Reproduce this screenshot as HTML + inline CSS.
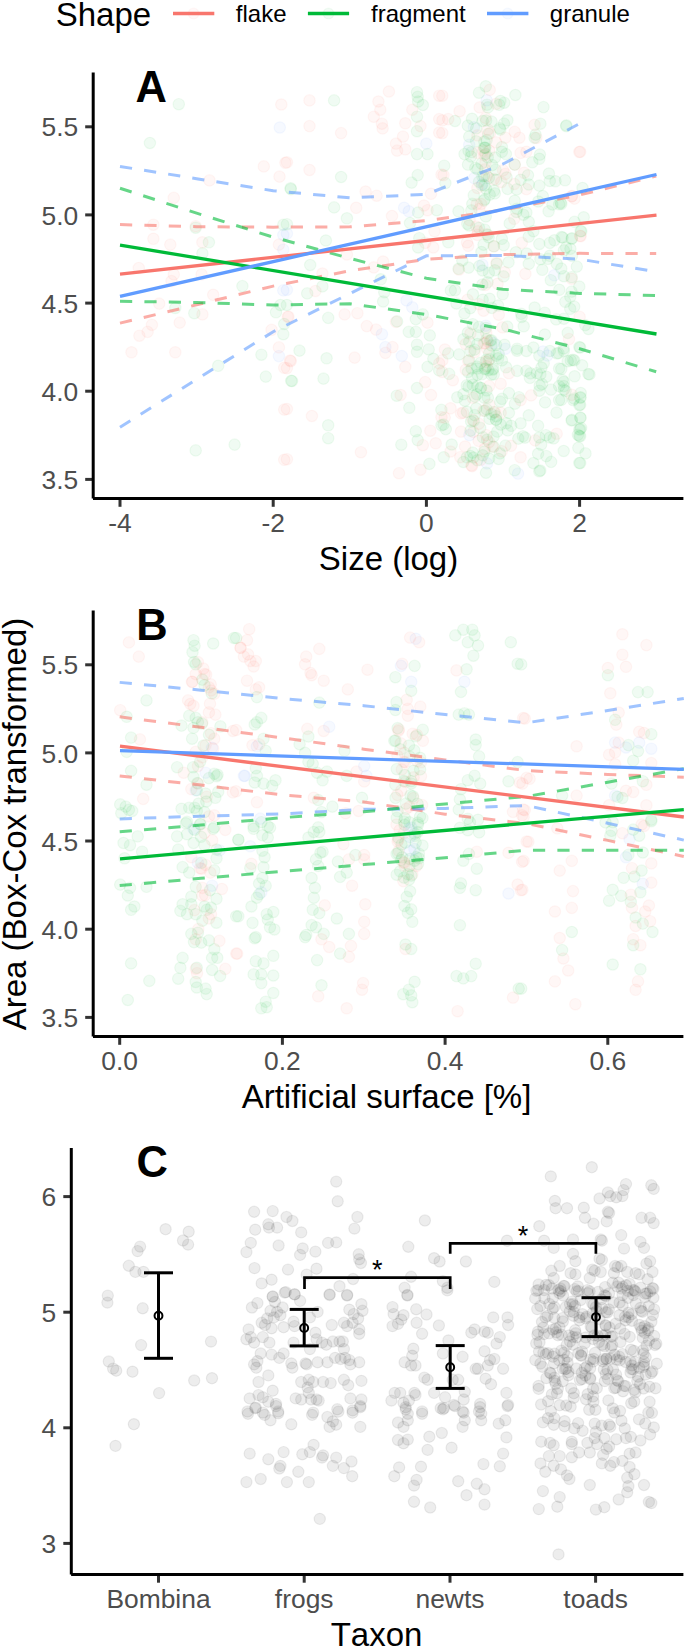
<!DOCTYPE html>
<html><head><meta charset="utf-8"><style>
html,body{margin:0;padding:0;background:#fff;width:685px;height:1649px;overflow:hidden}
svg{display:block}
text{font-family:"Liberation Sans",sans-serif;font-kerning:none}
.pts circle{fill-opacity:.06;stroke-opacity:.06;stroke-width:1.2}
.r{fill:#F8766D;stroke:#F8766D}.g{fill:#00BA38;stroke:#00BA38}.b{fill:#619CFF;stroke:#619CFF}
.ptc circle{fill:#000;stroke:#000;fill-opacity:.07;stroke-opacity:.07;stroke-width:1.2}
</style></head><body>
<svg width="685" height="1649" viewBox="0 0 685 1649">
<rect width="685" height="1649" fill="#fff"/>
<text x="55.7" y="25.5" font-size="33" fill="#000">Shape</text>
<circle cx="193.6" cy="13.6" r="5.4" fill="#F8766D" fill-opacity="0.05" stroke="#F8766D" stroke-opacity="0.05" stroke-width="1.2"/>
<line x1="173" y1="13.5" x2="214.3" y2="13.5" stroke="#F8766D" stroke-width="3.3"/>
<text x="235.8" y="21.9" font-size="24" fill="#000">flake</text>
<circle cx="328.5" cy="13.6" r="5.4" fill="#00BA38" fill-opacity="0.05" stroke="#00BA38" stroke-opacity="0.05" stroke-width="1.2"/>
<line x1="307.9" y1="13.5" x2="349.1" y2="13.5" stroke="#00BA38" stroke-width="3.3"/>
<text x="371.0" y="21.9" font-size="24" fill="#000">fragment</text>
<circle cx="507.7" cy="13.6" r="5.4" fill="#619CFF" fill-opacity="0.05" stroke="#619CFF" stroke-opacity="0.05" stroke-width="1.2"/>
<line x1="487" y1="13.5" x2="528.4" y2="13.5" stroke="#619CFF" stroke-width="3.3"/>
<text x="549.8" y="21.9" font-size="24" fill="#000">granule</text>
<g class="pts">
<circle cx="571.6" cy="278.8" r="5.7" class="r"/>
<circle cx="572.0" cy="238.2" r="5.7" class="g"/>
<circle cx="195.7" cy="450.4" r="5.7" class="g"/>
<circle cx="463.1" cy="412.7" r="5.7" class="r"/>
<circle cx="543.0" cy="351.5" r="5.7" class="b"/>
<circle cx="480.6" cy="362.9" r="5.7" class="g"/>
<circle cx="526.4" cy="151.8" r="5.7" class="r"/>
<circle cx="480.2" cy="427.9" r="5.7" class="g"/>
<circle cx="376.6" cy="195.7" r="5.7" class="r"/>
<circle cx="486.7" cy="140.1" r="5.7" class="g"/>
<circle cx="382.6" cy="128.4" r="5.7" class="r"/>
<circle cx="482.7" cy="121.0" r="5.7" class="g"/>
<circle cx="473.8" cy="195.2" r="5.7" class="g"/>
<circle cx="469.2" cy="136.6" r="5.7" class="g"/>
<circle cx="540.4" cy="259.2" r="5.7" class="g"/>
<circle cx="485.8" cy="86.3" r="5.7" class="g"/>
<circle cx="521.2" cy="313.8" r="5.7" class="g"/>
<circle cx="399.0" cy="473.2" r="5.7" class="r"/>
<circle cx="533.4" cy="347.5" r="5.7" class="g"/>
<circle cx="415.8" cy="431.2" r="5.7" class="g"/>
<circle cx="501.9" cy="147.1" r="5.7" class="g"/>
<circle cx="556.8" cy="263.9" r="5.7" class="g"/>
<circle cx="481.4" cy="252.0" r="5.7" class="g"/>
<circle cx="493.5" cy="436.6" r="5.7" class="g"/>
<circle cx="418.1" cy="247.5" r="5.7" class="g"/>
<circle cx="334.1" cy="207.4" r="5.7" class="g"/>
<circle cx="558.5" cy="353.1" r="5.7" class="g"/>
<circle cx="484.1" cy="176.1" r="5.7" class="g"/>
<circle cx="278.9" cy="244.6" r="5.7" class="r"/>
<circle cx="486.0" cy="188.7" r="5.7" class="g"/>
<circle cx="491.4" cy="345.4" r="5.7" class="g"/>
<circle cx="365.6" cy="191.5" r="5.7" class="r"/>
<circle cx="493.7" cy="343.2" r="5.7" class="b"/>
<circle cx="493.9" cy="179.1" r="5.7" class="r"/>
<circle cx="173.8" cy="274.4" r="5.7" class="r"/>
<circle cx="496.0" cy="419.6" r="5.7" class="g"/>
<circle cx="476.2" cy="128.4" r="5.7" class="g"/>
<circle cx="482.4" cy="264.7" r="5.7" class="b"/>
<circle cx="476.9" cy="366.5" r="5.7" class="g"/>
<circle cx="489.1" cy="442.1" r="5.7" class="r"/>
<circle cx="131.5" cy="352.3" r="5.7" class="r"/>
<circle cx="201.6" cy="274.4" r="5.7" class="r"/>
<circle cx="341.1" cy="177.0" r="5.7" class="g"/>
<circle cx="465.7" cy="344.0" r="5.7" class="r"/>
<circle cx="479.7" cy="107.4" r="5.7" class="r"/>
<circle cx="549.8" cy="437.5" r="5.7" class="g"/>
<circle cx="479.0" cy="227.8" r="5.7" class="g"/>
<circle cx="570.2" cy="308.8" r="5.7" class="g"/>
<circle cx="572.0" cy="196.1" r="5.7" class="r"/>
<circle cx="471.0" cy="156.5" r="5.7" class="g"/>
<circle cx="463.4" cy="339.3" r="5.7" class="g"/>
<circle cx="506.6" cy="177.5" r="5.7" class="g"/>
<circle cx="286.9" cy="233.5" r="5.7" class="b"/>
<circle cx="538.1" cy="453.8" r="5.7" class="g"/>
<circle cx="477.4" cy="368.5" r="5.7" class="g"/>
<circle cx="500.7" cy="383.7" r="5.7" class="r"/>
<circle cx="546.3" cy="456.1" r="5.7" class="g"/>
<circle cx="562.6" cy="237.5" r="5.7" class="g"/>
<circle cx="539.9" cy="154.6" r="5.7" class="g"/>
<circle cx="495.5" cy="169.7" r="5.7" class="g"/>
<circle cx="489.1" cy="353.4" r="5.7" class="g"/>
<circle cx="278.9" cy="347.4" r="5.7" class="r"/>
<circle cx="501.9" cy="238.8" r="5.7" class="g"/>
<circle cx="519.4" cy="137.7" r="5.7" class="r"/>
<circle cx="450.8" cy="290.4" r="5.7" class="g"/>
<circle cx="517.0" cy="350.7" r="5.7" class="g"/>
<circle cx="526.4" cy="212.5" r="5.7" class="g"/>
<circle cx="563.9" cy="250.4" r="5.7" class="g"/>
<circle cx="571.9" cy="255.9" r="5.7" class="g"/>
<circle cx="572.9" cy="359.9" r="5.7" class="g"/>
<circle cx="491.4" cy="414.1" r="5.7" class="g"/>
<circle cx="559.3" cy="289.8" r="5.7" class="g"/>
<circle cx="472.9" cy="294.3" r="5.7" class="g"/>
<circle cx="419.3" cy="238.2" r="5.7" class="g"/>
<circle cx="325.9" cy="240.5" r="5.7" class="g"/>
<circle cx="528.8" cy="221.8" r="5.7" class="g"/>
<circle cx="439.2" cy="132.6" r="5.7" class="r"/>
<circle cx="433.3" cy="358.8" r="5.7" class="g"/>
<circle cx="417.0" cy="344.7" r="5.7" class="g"/>
<circle cx="501.9" cy="398.9" r="5.7" class="g"/>
<circle cx="469.2" cy="341.7" r="5.7" class="g"/>
<circle cx="528.0" cy="175.3" r="5.7" class="g"/>
<circle cx="503.7" cy="245.1" r="5.7" class="g"/>
<circle cx="400.6" cy="395.0" r="5.7" class="r"/>
<circle cx="554.4" cy="240.3" r="5.7" class="g"/>
<circle cx="357.4" cy="313.2" r="5.7" class="r"/>
<circle cx="496.1" cy="419.9" r="5.7" class="g"/>
<circle cx="580.2" cy="347.5" r="5.7" class="g"/>
<circle cx="481.1" cy="204.0" r="5.7" class="r"/>
<circle cx="279.5" cy="176.6" r="5.7" class="r"/>
<circle cx="554.3" cy="275.3" r="5.7" class="b"/>
<circle cx="580.2" cy="417.6" r="5.7" class="g"/>
<circle cx="408.8" cy="211.3" r="5.7" class="b"/>
<circle cx="484.6" cy="448.7" r="5.7" class="r"/>
<circle cx="484.9" cy="169.4" r="5.7" class="r"/>
<circle cx="404.1" cy="207.8" r="5.7" class="b"/>
<circle cx="504.8" cy="272.3" r="5.7" class="r"/>
<circle cx="470.4" cy="456.0" r="5.7" class="g"/>
<circle cx="485.8" cy="361.8" r="5.7" class="r"/>
<circle cx="487.9" cy="397.7" r="5.7" class="g"/>
<circle cx="500.3" cy="129.6" r="5.7" class="g"/>
<circle cx="570.8" cy="360.4" r="5.7" class="g"/>
<circle cx="482.7" cy="455.3" r="5.7" class="g"/>
<circle cx="506.1" cy="367.3" r="5.7" class="g"/>
<circle cx="580.2" cy="429.3" r="5.7" class="g"/>
<circle cx="472.0" cy="118.8" r="5.7" class="g"/>
<circle cx="481.9" cy="374.3" r="5.7" class="g"/>
<circle cx="571.9" cy="394.9" r="5.7" class="r"/>
<circle cx="487.5" cy="282.3" r="5.7" class="g"/>
<circle cx="494.8" cy="270.3" r="5.7" class="g"/>
<circle cx="487.1" cy="439.7" r="5.7" class="g"/>
<circle cx="588.4" cy="329.0" r="5.7" class="g"/>
<circle cx="486.7" cy="100.4" r="5.7" class="b"/>
<circle cx="499.7" cy="128.2" r="5.7" class="g"/>
<circle cx="441.5" cy="417.2" r="5.7" class="r"/>
<circle cx="401.8" cy="356.0" r="5.7" class="b"/>
<circle cx="498.6" cy="459.0" r="5.7" class="g"/>
<circle cx="431.0" cy="395.0" r="5.7" class="r"/>
<circle cx="484.4" cy="397.7" r="5.7" class="g"/>
<circle cx="520.6" cy="152.9" r="5.7" class="r"/>
<circle cx="566.1" cy="126.1" r="5.7" class="g"/>
<circle cx="429.8" cy="335.4" r="5.7" class="g"/>
<circle cx="470.4" cy="333.5" r="5.7" class="r"/>
<circle cx="528.7" cy="236.6" r="5.7" class="g"/>
<circle cx="477.3" cy="234.9" r="5.7" class="r"/>
<circle cx="292.0" cy="381.0" r="5.7" class="g"/>
<circle cx="427.5" cy="210.2" r="5.7" class="r"/>
<circle cx="486.5" cy="234.3" r="5.7" class="r"/>
<circle cx="472.7" cy="384.9" r="5.7" class="g"/>
<circle cx="484.7" cy="229.6" r="5.7" class="g"/>
<circle cx="439.2" cy="363.4" r="5.7" class="r"/>
<circle cx="535.1" cy="440.4" r="5.7" class="r"/>
<circle cx="471.5" cy="465.5" r="5.7" class="r"/>
<circle cx="479.4" cy="266.0" r="5.7" class="g"/>
<circle cx="479.1" cy="326.9" r="5.7" class="g"/>
<circle cx="417.0" cy="92.2" r="5.7" class="g"/>
<circle cx="563.6" cy="348.5" r="5.7" class="g"/>
<circle cx="276.0" cy="312.3" r="5.7" class="g"/>
<circle cx="582.1" cy="365.3" r="5.7" class="g"/>
<circle cx="473.3" cy="431.9" r="5.7" class="r"/>
<circle cx="543.5" cy="107.1" r="5.7" class="g"/>
<circle cx="489.5" cy="418.8" r="5.7" class="g"/>
<circle cx="486.2" cy="332.9" r="5.7" class="r"/>
<circle cx="504.2" cy="102.7" r="5.7" class="g"/>
<circle cx="469.1" cy="225.5" r="5.7" class="g"/>
<circle cx="427.5" cy="322.6" r="5.7" class="r"/>
<circle cx="551.1" cy="461.9" r="5.7" class="g"/>
<circle cx="486.0" cy="328.0" r="5.7" class="g"/>
<circle cx="278.9" cy="356.1" r="5.7" class="b"/>
<circle cx="491.4" cy="340.2" r="5.7" class="g"/>
<circle cx="288.5" cy="316.7" r="5.7" class="r"/>
<circle cx="514.9" cy="403.7" r="5.7" class="g"/>
<circle cx="290.0" cy="360.5" r="5.7" class="r"/>
<circle cx="195.7" cy="226.2" r="5.7" class="r"/>
<circle cx="585.5" cy="453.4" r="5.7" class="g"/>
<circle cx="326.6" cy="358.3" r="5.7" class="g"/>
<circle cx="552.4" cy="204.5" r="5.7" class="g"/>
<circle cx="473.8" cy="420.8" r="5.7" class="g"/>
<circle cx="488.3" cy="133.8" r="5.7" class="g"/>
<circle cx="441.4" cy="409.9" r="5.7" class="g"/>
<circle cx="514.7" cy="164.6" r="5.7" class="g"/>
<circle cx="581.1" cy="427.9" r="5.7" class="g"/>
<circle cx="478.6" cy="440.8" r="5.7" class="r"/>
<circle cx="523.4" cy="214.7" r="5.7" class="g"/>
<circle cx="444.9" cy="349.5" r="5.7" class="r"/>
<circle cx="560.7" cy="202.7" r="5.7" class="g"/>
<circle cx="484.4" cy="155.3" r="5.7" class="r"/>
<circle cx="286.9" cy="224.2" r="5.7" class="g"/>
<circle cx="517.1" cy="348.7" r="5.7" class="g"/>
<circle cx="496.1" cy="142.4" r="5.7" class="r"/>
<circle cx="518.9" cy="397.2" r="5.7" class="g"/>
<circle cx="417.7" cy="440.1" r="5.7" class="g"/>
<circle cx="286.9" cy="409.0" r="5.7" class="r"/>
<circle cx="488.9" cy="272.7" r="5.7" class="g"/>
<circle cx="464.5" cy="154.1" r="5.7" class="g"/>
<circle cx="570.4" cy="248.8" r="5.7" class="g"/>
<circle cx="487.0" cy="104.7" r="5.7" class="g"/>
<circle cx="482.9" cy="437.4" r="5.7" class="g"/>
<circle cx="516.7" cy="189.4" r="5.7" class="g"/>
<circle cx="471.4" cy="152.2" r="5.7" class="g"/>
<circle cx="392.0" cy="216.0" r="5.7" class="r"/>
<circle cx="505.4" cy="137.7" r="5.7" class="r"/>
<circle cx="408.8" cy="331.9" r="5.7" class="g"/>
<circle cx="532.3" cy="162.3" r="5.7" class="g"/>
<circle cx="494.0" cy="412.1" r="5.7" class="g"/>
<circle cx="574.5" cy="198.6" r="5.7" class="r"/>
<circle cx="480.6" cy="387.7" r="5.7" class="g"/>
<circle cx="473.9" cy="127.2" r="5.7" class="b"/>
<circle cx="328.2" cy="317.9" r="5.7" class="g"/>
<circle cx="571.6" cy="196.3" r="5.7" class="r"/>
<circle cx="346.9" cy="254.5" r="5.7" class="r"/>
<circle cx="549.8" cy="242.9" r="5.7" class="g"/>
<circle cx="483.5" cy="310.7" r="5.7" class="r"/>
<circle cx="242.4" cy="286.1" r="5.7" class="g"/>
<circle cx="209.5" cy="180.4" r="5.7" class="r"/>
<circle cx="542.8" cy="196.1" r="5.7" class="g"/>
<circle cx="496.1" cy="355.7" r="5.7" class="g"/>
<circle cx="396.7" cy="395.7" r="5.7" class="g"/>
<circle cx="283.3" cy="224.7" r="5.7" class="g"/>
<circle cx="283.3" cy="249.6" r="5.7" class="b"/>
<circle cx="444.7" cy="417.6" r="5.7" class="r"/>
<circle cx="499.9" cy="453.4" r="5.7" class="g"/>
<circle cx="456.4" cy="303.5" r="5.7" class="g"/>
<circle cx="561.3" cy="204.0" r="5.7" class="g"/>
<circle cx="484.4" cy="451.5" r="5.7" class="g"/>
<circle cx="202.4" cy="253.4" r="5.7" class="g"/>
<circle cx="373.8" cy="267.4" r="5.7" class="r"/>
<circle cx="509.7" cy="223.4" r="5.7" class="g"/>
<circle cx="406.5" cy="300.4" r="5.7" class="b"/>
<circle cx="468.2" cy="245.8" r="5.7" class="r"/>
<circle cx="472.3" cy="203.9" r="5.7" class="g"/>
<circle cx="405.3" cy="366.9" r="5.7" class="r"/>
<circle cx="548.9" cy="173.5" r="5.7" class="g"/>
<circle cx="271.6" cy="329.9" r="5.7" class="r"/>
<circle cx="549.8" cy="351.0" r="5.7" class="g"/>
<circle cx="526.4" cy="189.1" r="5.7" class="r"/>
<circle cx="354.6" cy="357.6" r="5.7" class="r"/>
<circle cx="571.6" cy="238.8" r="5.7" class="g"/>
<circle cx="488.8" cy="177.9" r="5.7" class="g"/>
<circle cx="261.4" cy="354.7" r="5.7" class="g"/>
<circle cx="501.9" cy="360.4" r="5.7" class="g"/>
<circle cx="281.3" cy="104.5" r="5.7" class="r"/>
<circle cx="534.6" cy="307.5" r="5.7" class="g"/>
<circle cx="487.9" cy="107.4" r="5.7" class="g"/>
<circle cx="309.5" cy="126.1" r="5.7" class="r"/>
<circle cx="511.2" cy="425.8" r="5.7" class="g"/>
<circle cx="486.7" cy="409.4" r="5.7" class="g"/>
<circle cx="405.3" cy="123.3" r="5.7" class="r"/>
<circle cx="284.2" cy="459.8" r="5.7" class="r"/>
<circle cx="483.2" cy="150.6" r="5.7" class="r"/>
<circle cx="486.1" cy="120.5" r="5.7" class="g"/>
<circle cx="450.5" cy="451.5" r="5.7" class="r"/>
<circle cx="547.9" cy="258.9" r="5.7" class="g"/>
<circle cx="284.2" cy="324.0" r="5.7" class="g"/>
<circle cx="401.3" cy="444.7" r="5.7" class="g"/>
<circle cx="559.1" cy="386.1" r="5.7" class="g"/>
<circle cx="543.7" cy="363.2" r="5.7" class="g"/>
<circle cx="556.7" cy="433.7" r="5.7" class="r"/>
<circle cx="138.8" cy="268.0" r="5.7" class="r"/>
<circle cx="528.8" cy="184.5" r="5.7" class="g"/>
<circle cx="566.4" cy="125.4" r="5.7" class="g"/>
<circle cx="471.6" cy="368.5" r="5.7" class="g"/>
<circle cx="459.1" cy="354.4" r="5.7" class="g"/>
<circle cx="418.1" cy="101.5" r="5.7" class="g"/>
<circle cx="583.7" cy="217.3" r="5.7" class="g"/>
<circle cx="311.9" cy="416.0" r="5.7" class="r"/>
<circle cx="489.7" cy="194.6" r="5.7" class="g"/>
<circle cx="341.1" cy="133.1" r="5.7" class="r"/>
<circle cx="565.3" cy="301.8" r="5.7" class="g"/>
<circle cx="503.1" cy="170.4" r="5.7" class="r"/>
<circle cx="525.1" cy="437.6" r="5.7" class="g"/>
<circle cx="486.7" cy="339.3" r="5.7" class="g"/>
<circle cx="487.6" cy="341.3" r="5.7" class="r"/>
<circle cx="322.4" cy="273.5" r="5.7" class="r"/>
<circle cx="468.5" cy="386.6" r="5.7" class="g"/>
<circle cx="489.1" cy="386.1" r="5.7" class="r"/>
<circle cx="574.6" cy="376.3" r="5.7" class="g"/>
<circle cx="448.3" cy="242.3" r="5.7" class="g"/>
<circle cx="471.3" cy="210.4" r="5.7" class="g"/>
<circle cx="538.1" cy="425.8" r="5.7" class="g"/>
<circle cx="563.8" cy="351.0" r="5.7" class="g"/>
<circle cx="286.9" cy="162.3" r="5.7" class="r"/>
<circle cx="482.4" cy="176.4" r="5.7" class="g"/>
<circle cx="520.6" cy="179.8" r="5.7" class="g"/>
<circle cx="545.1" cy="402.4" r="5.7" class="g"/>
<circle cx="481.7" cy="185.3" r="5.7" class="g"/>
<circle cx="487.8" cy="157.4" r="5.7" class="g"/>
<circle cx="585.2" cy="325.1" r="5.7" class="g"/>
<circle cx="474.5" cy="349.6" r="5.7" class="g"/>
<circle cx="491.3" cy="374.6" r="5.7" class="g"/>
<circle cx="514.8" cy="164.6" r="5.7" class="r"/>
<circle cx="380.3" cy="109.7" r="5.7" class="r"/>
<circle cx="439.2" cy="95.7" r="5.7" class="r"/>
<circle cx="496.1" cy="179.8" r="5.7" class="g"/>
<circle cx="486.7" cy="176.3" r="5.7" class="r"/>
<circle cx="484.3" cy="141.6" r="5.7" class="g"/>
<circle cx="539.3" cy="158.8" r="5.7" class="g"/>
<circle cx="455.0" cy="290.3" r="5.7" class="g"/>
<circle cx="555.5" cy="181.3" r="5.7" class="g"/>
<circle cx="290.6" cy="188.2" r="5.7" class="g"/>
<circle cx="573.1" cy="400.1" r="5.7" class="g"/>
<circle cx="441.5" cy="425.3" r="5.7" class="g"/>
<circle cx="279.8" cy="127.5" r="5.7" class="b"/>
<circle cx="153.4" cy="224.7" r="5.7" class="r"/>
<circle cx="283.3" cy="290.4" r="5.7" class="b"/>
<circle cx="541.1" cy="444.7" r="5.7" class="g"/>
<circle cx="485.0" cy="343.1" r="5.7" class="r"/>
<circle cx="518.0" cy="473.6" r="5.7" class="b"/>
<circle cx="502.4" cy="327.4" r="5.7" class="r"/>
<circle cx="476.9" cy="394.3" r="5.7" class="g"/>
<circle cx="443.5" cy="175.1" r="5.7" class="r"/>
<circle cx="476.7" cy="204.2" r="5.7" class="r"/>
<circle cx="310.2" cy="265.0" r="5.7" class="g"/>
<circle cx="489.6" cy="359.2" r="5.7" class="g"/>
<circle cx="482.6" cy="270.5" r="5.7" class="g"/>
<circle cx="450.5" cy="408.3" r="5.7" class="r"/>
<circle cx="420.5" cy="126.1" r="5.7" class="r"/>
<circle cx="448.2" cy="353.4" r="5.7" class="g"/>
<circle cx="496.0" cy="344.9" r="5.7" class="g"/>
<circle cx="485.8" cy="216.5" r="5.7" class="g"/>
<circle cx="428.7" cy="349.4" r="5.7" class="g"/>
<circle cx="505.9" cy="154.1" r="5.7" class="g"/>
<circle cx="403.0" cy="136.6" r="5.7" class="r"/>
<circle cx="507.6" cy="188.9" r="5.7" class="g"/>
<circle cx="484.2" cy="147.7" r="5.7" class="g"/>
<circle cx="463.4" cy="394.2" r="5.7" class="g"/>
<circle cx="470.4" cy="351.0" r="5.7" class="g"/>
<circle cx="443.5" cy="424.6" r="5.7" class="g"/>
<circle cx="534.6" cy="137.7" r="5.7" class="g"/>
<circle cx="570.3" cy="296.8" r="5.7" class="g"/>
<circle cx="486.4" cy="435.2" r="5.7" class="r"/>
<circle cx="494.9" cy="412.2" r="5.7" class="r"/>
<circle cx="444.2" cy="165.7" r="5.7" class="g"/>
<circle cx="468.6" cy="267.6" r="5.7" class="g"/>
<circle cx="496.2" cy="416.2" r="5.7" class="g"/>
<circle cx="283.3" cy="235.0" r="5.7" class="b"/>
<circle cx="574.5" cy="221.9" r="5.7" class="g"/>
<circle cx="483.5" cy="244.7" r="5.7" class="g"/>
<circle cx="436.8" cy="210.2" r="5.7" class="g"/>
<circle cx="578.3" cy="447.8" r="5.7" class="g"/>
<circle cx="539.3" cy="390.7" r="5.7" class="g"/>
<circle cx="381.9" cy="123.7" r="5.7" class="r"/>
<circle cx="427.5" cy="154.1" r="5.7" class="g"/>
<circle cx="549.8" cy="181.0" r="5.7" class="g"/>
<circle cx="579.3" cy="405.1" r="5.7" class="g"/>
<circle cx="521.7" cy="316.9" r="5.7" class="g"/>
<circle cx="484.4" cy="185.3" r="5.7" class="g"/>
<circle cx="420.5" cy="469.7" r="5.7" class="r"/>
<circle cx="461.0" cy="431.6" r="5.7" class="r"/>
<circle cx="366.8" cy="326.1" r="5.7" class="r"/>
<circle cx="539.3" cy="185.6" r="5.7" class="g"/>
<circle cx="580.6" cy="231.1" r="5.7" class="g"/>
<circle cx="417.7" cy="96.9" r="5.7" class="g"/>
<circle cx="542.3" cy="269.8" r="5.7" class="g"/>
<circle cx="579.6" cy="316.9" r="5.7" class="r"/>
<circle cx="567.7" cy="332.9" r="5.7" class="g"/>
<circle cx="442.3" cy="360.4" r="5.7" class="r"/>
<circle cx="149.9" cy="143.0" r="5.7" class="g"/>
<circle cx="469.4" cy="435.1" r="5.7" class="b"/>
<circle cx="473.4" cy="457.5" r="5.7" class="g"/>
<circle cx="487.7" cy="234.8" r="5.7" class="g"/>
<circle cx="458.5" cy="268.8" r="5.7" class="g"/>
<circle cx="202.4" cy="314.4" r="5.7" class="r"/>
<circle cx="479.0" cy="181.8" r="5.7" class="g"/>
<circle cx="360.9" cy="452.2" r="5.7" class="r"/>
<circle cx="521.8" cy="242.9" r="5.7" class="r"/>
<circle cx="485.6" cy="162.3" r="5.7" class="r"/>
<circle cx="439.2" cy="119.1" r="5.7" class="r"/>
<circle cx="477.4" cy="386.1" r="5.7" class="g"/>
<circle cx="566.1" cy="247.5" r="5.7" class="g"/>
<circle cx="524.1" cy="172.8" r="5.7" class="r"/>
<circle cx="493.7" cy="246.3" r="5.7" class="g"/>
<circle cx="455.0" cy="121.0" r="5.7" class="g"/>
<circle cx="283.3" cy="334.2" r="5.7" class="g"/>
<circle cx="418.1" cy="212.5" r="5.7" class="g"/>
<circle cx="526.7" cy="253.5" r="5.7" class="g"/>
<circle cx="505.4" cy="445.6" r="5.7" class="g"/>
<circle cx="435.7" cy="443.3" r="5.7" class="r"/>
<circle cx="501.7" cy="451.2" r="5.7" class="r"/>
<circle cx="459.6" cy="111.2" r="5.7" class="r"/>
<circle cx="234.6" cy="444.6" r="5.7" class="g"/>
<circle cx="412.3" cy="307.4" r="5.7" class="b"/>
<circle cx="481.0" cy="388.1" r="5.7" class="g"/>
<circle cx="589.5" cy="374.4" r="5.7" class="g"/>
<circle cx="494.0" cy="190.8" r="5.7" class="g"/>
<circle cx="384.3" cy="292.2" r="5.7" class="g"/>
<circle cx="501.3" cy="182.0" r="5.7" class="r"/>
<circle cx="494.1" cy="246.3" r="5.7" class="r"/>
<circle cx="580.6" cy="236.2" r="5.7" class="r"/>
<circle cx="563.9" cy="276.2" r="5.7" class="g"/>
<circle cx="569.0" cy="339.1" r="5.7" class="r"/>
<circle cx="579.3" cy="347.1" r="5.7" class="g"/>
<circle cx="580.2" cy="397.7" r="5.7" class="g"/>
<circle cx="470.3" cy="308.1" r="5.7" class="g"/>
<circle cx="445.4" cy="183.1" r="5.7" class="g"/>
<circle cx="309.5" cy="170.0" r="5.7" class="r"/>
<circle cx="159.2" cy="303.6" r="5.7" class="r"/>
<circle cx="493.7" cy="446.8" r="5.7" class="g"/>
<circle cx="482.7" cy="299.8" r="5.7" class="g"/>
<circle cx="544.9" cy="334.5" r="5.7" class="g"/>
<circle cx="486.6" cy="390.5" r="5.7" class="g"/>
<circle cx="534.6" cy="124.9" r="5.7" class="r"/>
<circle cx="474.2" cy="178.1" r="5.7" class="b"/>
<circle cx="477.4" cy="188.0" r="5.7" class="r"/>
<circle cx="195.7" cy="227.7" r="5.7" class="g"/>
<circle cx="483.7" cy="343.5" r="5.7" class="r"/>
<circle cx="396.0" cy="321.9" r="5.7" class="r"/>
<circle cx="500.7" cy="424.6" r="5.7" class="g"/>
<circle cx="500.7" cy="412.8" r="5.7" class="r"/>
<circle cx="465.1" cy="446.5" r="5.7" class="r"/>
<circle cx="518.3" cy="438.6" r="5.7" class="g"/>
<circle cx="179.7" cy="322.6" r="5.7" class="r"/>
<circle cx="498.1" cy="358.3" r="5.7" class="g"/>
<circle cx="579.3" cy="436.0" r="5.7" class="g"/>
<circle cx="471.1" cy="421.5" r="5.7" class="g"/>
<circle cx="417.0" cy="116.7" r="5.7" class="g"/>
<circle cx="472.1" cy="466.1" r="5.7" class="r"/>
<circle cx="491.8" cy="307.9" r="5.7" class="g"/>
<circle cx="563.8" cy="386.1" r="5.7" class="g"/>
<circle cx="486.0" cy="472.7" r="5.7" class="g"/>
<circle cx="218.2" cy="365.8" r="5.7" class="g"/>
<circle cx="373.8" cy="116.7" r="5.7" class="r"/>
<circle cx="427.5" cy="366.9" r="5.7" class="g"/>
<circle cx="502.7" cy="294.3" r="5.7" class="g"/>
<circle cx="576.8" cy="266.6" r="5.7" class="g"/>
<circle cx="178.8" cy="104.2" r="5.7" class="g"/>
<circle cx="139.4" cy="335.7" r="5.7" class="r"/>
<circle cx="491.6" cy="121.6" r="5.7" class="g"/>
<circle cx="171.5" cy="281.1" r="5.7" class="r"/>
<circle cx="507.3" cy="326.6" r="5.7" class="g"/>
<circle cx="517.0" cy="208.7" r="5.7" class="g"/>
<circle cx="290.8" cy="361.1" r="5.7" class="r"/>
<circle cx="551.0" cy="389.6" r="5.7" class="g"/>
<circle cx="307.2" cy="293.4" r="5.7" class="g"/>
<circle cx="517.1" cy="370.9" r="5.7" class="g"/>
<circle cx="173.8" cy="197.9" r="5.7" class="r"/>
<circle cx="533.4" cy="463.1" r="5.7" class="g"/>
<circle cx="540.4" cy="123.7" r="5.7" class="g"/>
<circle cx="539.3" cy="471.3" r="5.7" class="g"/>
<circle cx="442.3" cy="372.0" r="5.7" class="r"/>
<circle cx="547.4" cy="355.5" r="5.7" class="b"/>
<circle cx="538.3" cy="201.5" r="5.7" class="g"/>
<circle cx="500.4" cy="101.0" r="5.7" class="g"/>
<circle cx="486.7" cy="366.2" r="5.7" class="r"/>
<circle cx="468.0" cy="164.6" r="5.7" class="g"/>
<circle cx="504.0" cy="123.6" r="5.7" class="g"/>
<circle cx="286.9" cy="289.9" r="5.7" class="b"/>
<circle cx="484.0" cy="200.5" r="5.7" class="g"/>
<circle cx="528.8" cy="415.3" r="5.7" class="g"/>
<circle cx="550.8" cy="280.2" r="5.7" class="g"/>
<circle cx="484.9" cy="199.1" r="5.7" class="g"/>
<circle cx="489.3" cy="150.8" r="5.7" class="r"/>
<circle cx="442.3" cy="95.7" r="5.7" class="r"/>
<circle cx="285.4" cy="162.8" r="5.7" class="r"/>
<circle cx="556.5" cy="412.6" r="5.7" class="g"/>
<circle cx="498.1" cy="305.5" r="5.7" class="g"/>
<circle cx="475.3" cy="167.8" r="5.7" class="g"/>
<circle cx="489.1" cy="404.7" r="5.7" class="r"/>
<circle cx="536.3" cy="138.0" r="5.7" class="r"/>
<circle cx="466.9" cy="411.8" r="5.7" class="g"/>
<circle cx="541.5" cy="367.5" r="5.7" class="g"/>
<circle cx="553.6" cy="438.4" r="5.7" class="g"/>
<circle cx="522.9" cy="436.3" r="5.7" class="g"/>
<circle cx="487.0" cy="463.4" r="5.7" class="b"/>
<circle cx="535.6" cy="134.6" r="5.7" class="g"/>
<circle cx="529.9" cy="377.9" r="5.7" class="g"/>
<circle cx="479.1" cy="304.2" r="5.7" class="r"/>
<circle cx="463.4" cy="462.0" r="5.7" class="g"/>
<circle cx="579.3" cy="286.5" r="5.7" class="g"/>
<circle cx="482.5" cy="184.1" r="5.7" class="b"/>
<circle cx="488.4" cy="370.1" r="5.7" class="g"/>
<circle cx="474.7" cy="415.1" r="5.7" class="g"/>
<circle cx="458.5" cy="211.3" r="5.7" class="g"/>
<circle cx="417.0" cy="154.1" r="5.7" class="g"/>
<circle cx="497.2" cy="431.6" r="5.7" class="g"/>
<circle cx="462.3" cy="260.5" r="5.7" class="g"/>
<circle cx="430.3" cy="430.7" r="5.7" class="r"/>
<circle cx="459.0" cy="269.6" r="5.7" class="r"/>
<circle cx="493.7" cy="374.4" r="5.7" class="g"/>
<circle cx="467.5" cy="299.9" r="5.7" class="r"/>
<circle cx="577.9" cy="434.9" r="5.7" class="g"/>
<circle cx="472.7" cy="452.6" r="5.7" class="g"/>
<circle cx="467.8" cy="125.6" r="5.7" class="g"/>
<circle cx="344.6" cy="314.4" r="5.7" class="r"/>
<circle cx="412.3" cy="109.7" r="5.7" class="r"/>
<circle cx="505.4" cy="173.9" r="5.7" class="r"/>
<circle cx="153.4" cy="238.8" r="5.7" class="r"/>
<circle cx="287.7" cy="316.7" r="5.7" class="r"/>
<circle cx="539.3" cy="355.7" r="5.7" class="g"/>
<circle cx="488.5" cy="360.1" r="5.7" class="r"/>
<circle cx="465.7" cy="369.7" r="5.7" class="r"/>
<circle cx="467.8" cy="332.6" r="5.7" class="g"/>
<circle cx="482.3" cy="284.6" r="5.7" class="g"/>
<circle cx="496.5" cy="262.6" r="5.7" class="r"/>
<circle cx="484.9" cy="410.7" r="5.7" class="g"/>
<circle cx="572.0" cy="419.9" r="5.7" class="g"/>
<circle cx="548.6" cy="211.3" r="5.7" class="g"/>
<circle cx="563.9" cy="389.6" r="5.7" class="g"/>
<circle cx="422.8" cy="445.2" r="5.7" class="r"/>
<circle cx="493.4" cy="368.7" r="5.7" class="g"/>
<circle cx="328.2" cy="438.2" r="5.7" class="g"/>
<circle cx="442.4" cy="120.4" r="5.7" class="r"/>
<circle cx="574.2" cy="398.6" r="5.7" class="g"/>
<circle cx="445.8" cy="429.1" r="5.7" class="g"/>
<circle cx="284.2" cy="367.8" r="5.7" class="r"/>
<circle cx="514.2" cy="218.8" r="5.7" class="r"/>
<circle cx="478.0" cy="231.3" r="5.7" class="r"/>
<circle cx="580.2" cy="436.3" r="5.7" class="g"/>
<circle cx="405.3" cy="149.4" r="5.7" class="r"/>
<circle cx="477.5" cy="374.7" r="5.7" class="g"/>
<circle cx="565.6" cy="391.0" r="5.7" class="g"/>
<circle cx="442.3" cy="133.1" r="5.7" class="r"/>
<circle cx="425.2" cy="242.9" r="5.7" class="r"/>
<circle cx="539.7" cy="385.5" r="5.7" class="g"/>
<circle cx="397.1" cy="321.4" r="5.7" class="g"/>
<circle cx="425.2" cy="382.1" r="5.7" class="r"/>
<circle cx="429.4" cy="463.9" r="5.7" class="g"/>
<circle cx="514.7" cy="200.8" r="5.7" class="g"/>
<circle cx="346.9" cy="218.3" r="5.7" class="g"/>
<circle cx="580.6" cy="397.3" r="5.7" class="g"/>
<circle cx="580.2" cy="463.1" r="5.7" class="g"/>
<circle cx="561.3" cy="399.9" r="5.7" class="g"/>
<circle cx="505.4" cy="348.7" r="5.7" class="b"/>
<circle cx="588.4" cy="374.1" r="5.7" class="g"/>
<circle cx="504.5" cy="344.8" r="5.7" class="g"/>
<circle cx="507.7" cy="430.4" r="5.7" class="g"/>
<circle cx="492.6" cy="369.7" r="5.7" class="g"/>
<circle cx="151.9" cy="324.9" r="5.7" class="r"/>
<circle cx="322.4" cy="286.4" r="5.7" class="g"/>
<circle cx="508.9" cy="373.2" r="5.7" class="r"/>
<circle cx="476.2" cy="226.6" r="5.7" class="r"/>
<circle cx="501.9" cy="151.8" r="5.7" class="g"/>
<circle cx="409.3" cy="407.8" r="5.7" class="g"/>
<circle cx="472.7" cy="397.7" r="5.7" class="r"/>
<circle cx="549.8" cy="255.8" r="5.7" class="g"/>
<circle cx="299.5" cy="350.6" r="5.7" class="g"/>
<circle cx="464.9" cy="400.7" r="5.7" class="g"/>
<circle cx="443.7" cy="457.3" r="5.7" class="g"/>
<circle cx="461.1" cy="413.4" r="5.7" class="r"/>
<circle cx="498.7" cy="354.0" r="5.7" class="g"/>
<circle cx="492.2" cy="165.1" r="5.7" class="g"/>
<circle cx="472.7" cy="419.9" r="5.7" class="r"/>
<circle cx="449.1" cy="373.9" r="5.7" class="g"/>
<circle cx="476.1" cy="141.3" r="5.7" class="g"/>
<circle cx="542.0" cy="384.1" r="5.7" class="g"/>
<circle cx="499.2" cy="104.8" r="5.7" class="g"/>
<circle cx="315.4" cy="291.0" r="5.7" class="r"/>
<circle cx="540.3" cy="470.5" r="5.7" class="g"/>
<circle cx="485.6" cy="154.0" r="5.7" class="g"/>
<circle cx="483.4" cy="410.8" r="5.7" class="r"/>
<circle cx="411.6" cy="182.6" r="5.7" class="g"/>
<circle cx="448.2" cy="119.1" r="5.7" class="r"/>
<circle cx="422.8" cy="314.4" r="5.7" class="g"/>
<circle cx="520.6" cy="423.4" r="5.7" class="g"/>
<circle cx="508.5" cy="262.3" r="5.7" class="g"/>
<circle cx="531.1" cy="395.4" r="5.7" class="r"/>
<circle cx="451.7" cy="444.5" r="5.7" class="g"/>
<circle cx="396.0" cy="143.6" r="5.7" class="r"/>
<circle cx="469.2" cy="360.4" r="5.7" class="g"/>
<circle cx="574.3" cy="360.4" r="5.7" class="g"/>
<circle cx="508.9" cy="393.1" r="5.7" class="g"/>
<circle cx="470.5" cy="430.6" r="5.7" class="g"/>
<circle cx="496.1" cy="103.9" r="5.7" class="r"/>
<circle cx="559.1" cy="204.3" r="5.7" class="g"/>
<circle cx="523.7" cy="326.3" r="5.7" class="g"/>
<circle cx="556.2" cy="319.4" r="5.7" class="g"/>
<circle cx="581.3" cy="231.2" r="5.7" class="g"/>
<circle cx="571.6" cy="291.6" r="5.7" class="g"/>
<circle cx="417.0" cy="388.0" r="5.7" class="g"/>
<circle cx="580.7" cy="393.0" r="5.7" class="g"/>
<circle cx="490.2" cy="340.5" r="5.7" class="g"/>
<circle cx="481.5" cy="163.6" r="5.7" class="g"/>
<circle cx="497.6" cy="283.8" r="5.7" class="r"/>
<circle cx="280.4" cy="305.0" r="5.7" class="g"/>
<circle cx="526.4" cy="370.9" r="5.7" class="g"/>
<circle cx="514.7" cy="470.2" r="5.7" class="g"/>
<circle cx="562.6" cy="380.2" r="5.7" class="g"/>
<circle cx="478.2" cy="335.4" r="5.7" class="g"/>
<circle cx="479.0" cy="92.7" r="5.7" class="g"/>
<circle cx="415.8" cy="319.1" r="5.7" class="g"/>
<circle cx="477.4" cy="460.3" r="5.7" class="g"/>
<circle cx="489.7" cy="89.9" r="5.7" class="r"/>
<circle cx="175.3" cy="308.0" r="5.7" class="g"/>
<circle cx="466.7" cy="385.4" r="5.7" class="g"/>
<circle cx="323.5" cy="378.6" r="5.7" class="g"/>
<circle cx="383.1" cy="261.5" r="5.7" class="r"/>
<circle cx="309.5" cy="100.4" r="5.7" class="r"/>
<circle cx="383.1" cy="301.5" r="5.7" class="g"/>
<circle cx="422.8" cy="105.0" r="5.7" class="g"/>
<circle cx="170.3" cy="244.6" r="5.7" class="r"/>
<circle cx="175.3" cy="352.3" r="5.7" class="r"/>
<circle cx="469.2" cy="144.7" r="5.7" class="b"/>
<circle cx="468.0" cy="372.0" r="5.7" class="g"/>
<circle cx="439.2" cy="370.4" r="5.7" class="g"/>
<circle cx="467.0" cy="242.4" r="5.7" class="r"/>
<circle cx="480.7" cy="459.9" r="5.7" class="r"/>
<circle cx="503.6" cy="276.4" r="5.7" class="g"/>
<circle cx="477.4" cy="169.3" r="5.7" class="g"/>
<circle cx="486.7" cy="348.3" r="5.7" class="r"/>
<circle cx="559.1" cy="368.5" r="5.7" class="g"/>
<circle cx="539.3" cy="437.5" r="5.7" class="g"/>
<circle cx="500.2" cy="401.6" r="5.7" class="g"/>
<circle cx="194.3" cy="313.2" r="5.7" class="g"/>
<circle cx="563.9" cy="318.7" r="5.7" class="g"/>
<circle cx="417.7" cy="175.1" r="5.7" class="g"/>
<circle cx="468.2" cy="360.9" r="5.7" class="r"/>
<circle cx="477.4" cy="152.9" r="5.7" class="r"/>
<circle cx="545.9" cy="435.2" r="5.7" class="g"/>
<circle cx="579.3" cy="463.0" r="5.7" class="g"/>
<circle cx="489.9" cy="133.4" r="5.7" class="r"/>
<circle cx="291.2" cy="380.9" r="5.7" class="g"/>
<circle cx="284.2" cy="409.6" r="5.7" class="r"/>
<circle cx="290.8" cy="189.1" r="5.7" class="g"/>
<circle cx="474.5" cy="352.3" r="5.7" class="r"/>
<circle cx="452.8" cy="380.2" r="5.7" class="r"/>
<circle cx="507.4" cy="120.3" r="5.7" class="g"/>
<circle cx="410.0" cy="223.0" r="5.7" class="g"/>
<circle cx="213.2" cy="294.8" r="5.7" class="r"/>
<circle cx="392.5" cy="347.1" r="5.7" class="r"/>
<circle cx="495.0" cy="157.5" r="5.7" class="g"/>
<circle cx="579.3" cy="152.0" r="5.7" class="r"/>
<circle cx="424.0" cy="205.5" r="5.7" class="r"/>
<circle cx="426.3" cy="143.6" r="5.7" class="b"/>
<circle cx="498.8" cy="314.7" r="5.7" class="r"/>
<circle cx="574.2" cy="306.6" r="5.7" class="g"/>
<circle cx="485.6" cy="368.5" r="5.7" class="g"/>
<circle cx="561.3" cy="268.5" r="5.7" class="g"/>
<circle cx="561.3" cy="369.0" r="5.7" class="g"/>
<circle cx="478.8" cy="423.7" r="5.7" class="r"/>
<circle cx="263.8" cy="166.4" r="5.7" class="r"/>
<circle cx="508.9" cy="412.9" r="5.7" class="g"/>
<circle cx="464.4" cy="313.5" r="5.7" class="g"/>
<circle cx="286.9" cy="368.1" r="5.7" class="r"/>
<circle cx="441.5" cy="174.6" r="5.7" class="r"/>
<circle cx="567.7" cy="361.2" r="5.7" class="g"/>
<circle cx="433.3" cy="247.5" r="5.7" class="r"/>
<circle cx="486.4" cy="359.7" r="5.7" class="g"/>
<circle cx="468.5" cy="150.8" r="5.7" class="g"/>
<circle cx="536.9" cy="373.2" r="5.7" class="g"/>
<circle cx="286.9" cy="459.2" r="5.7" class="r"/>
<circle cx="563.9" cy="381.9" r="5.7" class="g"/>
<circle cx="484.9" cy="147.7" r="5.7" class="g"/>
<circle cx="487.9" cy="129.6" r="5.7" class="r"/>
<circle cx="381.9" cy="334.2" r="5.7" class="b"/>
<circle cx="356.2" cy="207.8" r="5.7" class="r"/>
<circle cx="546.3" cy="376.7" r="5.7" class="g"/>
<circle cx="565.0" cy="180.3" r="5.7" class="g"/>
<circle cx="485.6" cy="117.9" r="5.7" class="r"/>
<circle cx="496.7" cy="263.8" r="5.7" class="g"/>
<circle cx="202.4" cy="242.3" r="5.7" class="r"/>
<circle cx="472.1" cy="377.9" r="5.7" class="g"/>
<circle cx="540.4" cy="374.4" r="5.7" class="g"/>
<circle cx="434.5" cy="231.2" r="5.7" class="r"/>
<circle cx="515.9" cy="252.3" r="5.7" class="g"/>
<circle cx="580.2" cy="235.8" r="5.7" class="r"/>
<circle cx="580.2" cy="404.7" r="5.7" class="g"/>
<circle cx="431.0" cy="193.8" r="5.7" class="r"/>
<circle cx="467.3" cy="223.9" r="5.7" class="g"/>
<circle cx="378.4" cy="101.5" r="5.7" class="r"/>
<circle cx="563.7" cy="451.0" r="5.7" class="g"/>
<circle cx="417.0" cy="351.8" r="5.7" class="g"/>
<circle cx="334.1" cy="100.4" r="5.7" class="g"/>
<circle cx="571.7" cy="277.2" r="5.7" class="g"/>
<circle cx="477.4" cy="135.4" r="5.7" class="r"/>
<circle cx="469.6" cy="220.1" r="5.7" class="r"/>
<circle cx="397.1" cy="150.6" r="5.7" class="r"/>
<circle cx="533.4" cy="231.2" r="5.7" class="g"/>
<circle cx="516.3" cy="212.0" r="5.7" class="g"/>
<circle cx="539.3" cy="244.0" r="5.7" class="g"/>
<circle cx="466.9" cy="457.3" r="5.7" class="g"/>
<circle cx="286.9" cy="305.0" r="5.7" class="g"/>
<circle cx="147.6" cy="331.9" r="5.7" class="r"/>
<circle cx="526.4" cy="351.0" r="5.7" class="g"/>
<circle cx="489.6" cy="298.8" r="5.7" class="g"/>
<circle cx="485.5" cy="147.7" r="5.7" class="g"/>
<circle cx="489.1" cy="458.5" r="5.7" class="g"/>
<circle cx="544.8" cy="312.7" r="5.7" class="g"/>
<circle cx="475.0" cy="396.6" r="5.7" class="g"/>
<circle cx="582.5" cy="188.0" r="5.7" class="g"/>
<circle cx="457.3" cy="397.3" r="5.7" class="g"/>
<circle cx="479.2" cy="209.0" r="5.7" class="r"/>
<circle cx="460.3" cy="457.2" r="5.7" class="r"/>
<circle cx="388.9" cy="91.5" r="5.7" class="r"/>
<circle cx="530.5" cy="373.4" r="5.7" class="g"/>
<circle cx="580.6" cy="417.9" r="5.7" class="g"/>
<circle cx="484.6" cy="369.1" r="5.7" class="g"/>
<circle cx="472.8" cy="324.2" r="5.7" class="g"/>
<circle cx="506.3" cy="423.3" r="5.7" class="g"/>
<circle cx="328.2" cy="425.3" r="5.7" class="g"/>
<circle cx="485.8" cy="325.7" r="5.7" class="b"/>
<circle cx="265.8" cy="376.6" r="5.7" class="g"/>
<circle cx="380.8" cy="279.3" r="5.7" class="g"/>
<circle cx="571.6" cy="420.5" r="5.7" class="g"/>
<circle cx="580.2" cy="151.8" r="5.7" class="r"/>
<circle cx="417.0" cy="131.2" r="5.7" class="g"/>
<circle cx="494.8" cy="193.4" r="5.7" class="g"/>
<circle cx="520.6" cy="400.1" r="5.7" class="r"/>
<circle cx="515.4" cy="95.0" r="5.7" class="g"/>
<circle cx="556.8" cy="353.4" r="5.7" class="g"/>
<circle cx="477.4" cy="344.0" r="5.7" class="g"/>
<circle cx="485.5" cy="284.9" r="5.7" class="r"/>
<circle cx="208.9" cy="242.3" r="5.7" class="g"/>
<circle cx="488.7" cy="237.2" r="5.7" class="g"/>
<circle cx="514.7" cy="131.9" r="5.7" class="r"/>
<circle cx="561.5" cy="237.0" r="5.7" class="g"/>
<circle cx="559.1" cy="400.1" r="5.7" class="g"/>
<circle cx="525.4" cy="273.9" r="5.7" class="r"/>
<circle cx="511.0" cy="445.8" r="5.7" class="r"/>
<circle cx="520.6" cy="457.3" r="5.7" class="r"/>
<circle cx="415.8" cy="331.9" r="5.7" class="g"/>
<circle cx="528.8" cy="263.9" r="5.7" class="g"/>
<circle cx="514.3" cy="184.0" r="5.7" class="r"/>
<circle cx="376.1" cy="329.6" r="5.7" class="r"/>
<circle cx="579.3" cy="429.5" r="5.7" class="g"/>
<circle cx="385.4" cy="352.9" r="5.7" class="r"/>
<circle cx="385.4" cy="347.1" r="5.7" class="b"/>
<circle cx="492.5" cy="446.5" r="5.7" class="r"/>
<circle cx="476.2" cy="408.3" r="5.7" class="g"/>
</g>
<path d="M120.00,224.53 L196.60,226.72 L273.20,227.14 L349.80,226.85 L426.40,220.68 L503.00,210.01 L579.60,194.99 L656.20,176.08" fill="none" stroke="#F8766D" stroke-opacity="0.6" stroke-width="3" stroke-dasharray="12.2 12.2"/>
<path d="M120.00,323.11 L196.60,304.80 L273.20,286.09 L349.80,270.77 L426.40,259.34 L503.00,254.60 L579.60,253.36 L656.20,253.62" fill="none" stroke="#F8766D" stroke-opacity="0.6" stroke-width="3" stroke-dasharray="12.2 12.2"/>
<path d="M120.00,188.23 L196.60,213.11 L273.20,237.13 L349.80,258.35 L426.40,278.23 L503.00,289.32 L579.60,293.38 L656.20,295.50" fill="none" stroke="#00BA38" stroke-opacity="0.6" stroke-width="3" stroke-dasharray="12.2 12.2"/>
<path d="M120.00,301.31 L196.60,302.48 L273.20,305.04 L349.80,303.73 L426.40,314.47 L503.00,329.00 L579.60,348.71 L656.20,371.74" fill="none" stroke="#00BA38" stroke-opacity="0.6" stroke-width="3" stroke-dasharray="12.2 12.2"/>
<path d="M120.00,166.43 L196.60,178.69 L273.20,190.71 L349.80,197.79 L426.40,194.38 L503.00,164.01 L579.60,123.66" fill="none" stroke="#619CFF" stroke-opacity="0.6" stroke-width="3" stroke-dasharray="12.2 12.2"/>
<path d="M120.00,427.23 L196.60,379.30 L273.20,331.78 L349.80,293.57 L426.40,255.80 L503.00,255.39 L579.60,259.13 L656.20,271.82" fill="none" stroke="#619CFF" stroke-opacity="0.6" stroke-width="3" stroke-dasharray="12.2 12.2"/>
<line x1="120.00" y1="274.20" x2="656.50" y2="215.10" stroke="#F8766D" stroke-width="3.3"/>
<line x1="120.00" y1="245.10" x2="656.50" y2="334.00" stroke="#00BA38" stroke-width="3.3"/>
<line x1="120.00" y1="296.40" x2="656.50" y2="174.50" stroke="#619CFF" stroke-width="3.3"/>
<line x1="85.2" y1="479.4" x2="93.2" y2="479.4" stroke="#333" stroke-width="3"/>
<line x1="85.2" y1="391.2" x2="93.2" y2="391.2" stroke="#333" stroke-width="3"/>
<line x1="85.2" y1="303.1" x2="93.2" y2="303.1" stroke="#333" stroke-width="3"/>
<line x1="85.2" y1="214.9" x2="93.2" y2="214.9" stroke="#333" stroke-width="3"/>
<line x1="85.2" y1="126.8" x2="93.2" y2="126.8" stroke="#333" stroke-width="3"/>
<line x1="120.0" y1="498.5" x2="120.0" y2="506.8" stroke="#333" stroke-width="3"/>
<line x1="273.2" y1="498.5" x2="273.2" y2="506.8" stroke="#333" stroke-width="3"/>
<line x1="426.4" y1="498.5" x2="426.4" y2="506.8" stroke="#333" stroke-width="3"/>
<line x1="579.6" y1="498.5" x2="579.6" y2="506.8" stroke="#333" stroke-width="3"/>
<line x1="93.2" y1="72.4" x2="93.2" y2="498.5" stroke="#000" stroke-width="3"/>
<line x1="93.0" y1="498.5" x2="683.4" y2="498.5" stroke="#000" stroke-width="3"/>
<text x="78.3" y="489.0" font-size="26.4" fill="#4D4D4D" text-anchor="end">3.5</text>
<text x="78.3" y="400.8" font-size="26.4" fill="#4D4D4D" text-anchor="end">4.0</text>
<text x="78.3" y="312.7" font-size="26.4" fill="#4D4D4D" text-anchor="end">4.5</text>
<text x="78.3" y="224.5" font-size="26.4" fill="#4D4D4D" text-anchor="end">5.0</text>
<text x="78.3" y="136.3" font-size="26.4" fill="#4D4D4D" text-anchor="end">5.5</text>
<text x="120.0" y="532.3" font-size="26.4" fill="#4D4D4D" text-anchor="middle">-4</text>
<text x="273.2" y="532.3" font-size="26.4" fill="#4D4D4D" text-anchor="middle">-2</text>
<text x="426.4" y="532.3" font-size="26.4" fill="#4D4D4D" text-anchor="middle">0</text>
<text x="579.6" y="532.3" font-size="26.4" fill="#4D4D4D" text-anchor="middle">2</text>
<text x="388.5" y="569.8" font-size="33" fill="#000" text-anchor="middle">Size (log)</text>
<text x="135.5" y="101.5" font-size="43.5" font-weight="bold" fill="#000">A</text>
<g class="pts">
<circle cx="398.7" cy="850.8" r="5.7" class="r"/>
<circle cx="351.0" cy="945.9" r="5.7" class="r"/>
<circle cx="316.0" cy="927.3" r="5.7" class="g"/>
<circle cx="197.9" cy="766.1" r="5.7" class="r"/>
<circle cx="642.8" cy="923.6" r="5.7" class="g"/>
<circle cx="459.9" cy="827.9" r="5.7" class="g"/>
<circle cx="243.9" cy="656.6" r="5.7" class="r"/>
<circle cx="320.4" cy="852.8" r="5.7" class="g"/>
<circle cx="410.5" cy="795.3" r="5.7" class="g"/>
<circle cx="205.6" cy="793.5" r="5.7" class="g"/>
<circle cx="318.2" cy="827.4" r="5.7" class="g"/>
<circle cx="408.9" cy="829.1" r="5.7" class="b"/>
<circle cx="124.6" cy="858.3" r="5.7" class="g"/>
<circle cx="211.0" cy="733.2" r="5.7" class="r"/>
<circle cx="524.8" cy="718.6" r="5.7" class="r"/>
<circle cx="412.6" cy="733.7" r="5.7" class="r"/>
<circle cx="415.7" cy="842.6" r="5.7" class="g"/>
<circle cx="398.0" cy="853.2" r="5.7" class="g"/>
<circle cx="461.0" cy="883.4" r="5.7" class="g"/>
<circle cx="362.0" cy="989.7" r="5.7" class="r"/>
<circle cx="605.5" cy="822.4" r="5.7" class="g"/>
<circle cx="262.4" cy="850.7" r="5.7" class="g"/>
<circle cx="403.8" cy="761.9" r="5.7" class="r"/>
<circle cx="475.7" cy="745.1" r="5.7" class="g"/>
<circle cx="212.1" cy="885.7" r="5.7" class="b"/>
<circle cx="411.3" cy="783.5" r="5.7" class="g"/>
<circle cx="607.9" cy="668.0" r="5.7" class="r"/>
<circle cx="422.1" cy="805.1" r="5.7" class="r"/>
<circle cx="344.5" cy="750.8" r="5.7" class="g"/>
<circle cx="312.7" cy="763.9" r="5.7" class="g"/>
<circle cx="644.0" cy="826.0" r="5.7" class="r"/>
<circle cx="413.4" cy="798.1" r="5.7" class="r"/>
<circle cx="210.7" cy="684.4" r="5.7" class="r"/>
<circle cx="205.6" cy="864.9" r="5.7" class="r"/>
<circle cx="414.4" cy="849.0" r="5.7" class="b"/>
<circle cx="641.6" cy="870.6" r="5.7" class="g"/>
<circle cx="183.7" cy="772.7" r="5.7" class="r"/>
<circle cx="513.0" cy="811.9" r="5.7" class="r"/>
<circle cx="615.1" cy="752.3" r="5.7" class="r"/>
<circle cx="518.7" cy="988.6" r="5.7" class="g"/>
<circle cx="475.7" cy="739.5" r="5.7" class="g"/>
<circle cx="194.4" cy="910.1" r="5.7" class="r"/>
<circle cx="220.4" cy="726.4" r="5.7" class="g"/>
<circle cx="202.3" cy="679.6" r="5.7" class="g"/>
<circle cx="200.5" cy="824.3" r="5.7" class="g"/>
<circle cx="571.8" cy="860.9" r="5.7" class="r"/>
<circle cx="205.6" cy="745.3" r="5.7" class="r"/>
<circle cx="398.4" cy="731.0" r="5.7" class="r"/>
<circle cx="270.0" cy="927.3" r="5.7" class="g"/>
<circle cx="314.9" cy="887.9" r="5.7" class="g"/>
<circle cx="247.0" cy="640.2" r="5.7" class="r"/>
<circle cx="364.2" cy="933.9" r="5.7" class="r"/>
<circle cx="411.2" cy="995.4" r="5.7" class="g"/>
<circle cx="260.2" cy="818.6" r="5.7" class="b"/>
<circle cx="238.3" cy="839.7" r="5.7" class="g"/>
<circle cx="474.6" cy="775.7" r="5.7" class="g"/>
<circle cx="397.6" cy="811.3" r="5.7" class="g"/>
<circle cx="479.1" cy="756.4" r="5.7" class="g"/>
<circle cx="181.5" cy="725.6" r="5.7" class="g"/>
<circle cx="610.3" cy="693.3" r="5.7" class="r"/>
<circle cx="559.7" cy="870.6" r="5.7" class="r"/>
<circle cx="206.3" cy="801.5" r="5.7" class="g"/>
<circle cx="208.9" cy="712.4" r="5.7" class="r"/>
<circle cx="178.2" cy="849.6" r="5.7" class="g"/>
<circle cx="197.9" cy="932.8" r="5.7" class="g"/>
<circle cx="191.3" cy="789.1" r="5.7" class="r"/>
<circle cx="131.1" cy="963.4" r="5.7" class="g"/>
<circle cx="612.7" cy="964.5" r="5.7" class="g"/>
<circle cx="576.6" cy="746.3" r="5.7" class="r"/>
<circle cx="308.4" cy="761.7" r="5.7" class="g"/>
<circle cx="120.2" cy="710.2" r="5.7" class="r"/>
<circle cx="523.6" cy="860.9" r="5.7" class="r"/>
<circle cx="214.3" cy="773.7" r="5.7" class="g"/>
<circle cx="401.0" cy="665.9" r="5.7" class="b"/>
<circle cx="607.9" cy="675.2" r="5.7" class="g"/>
<circle cx="323.7" cy="933.9" r="5.7" class="g"/>
<circle cx="463.3" cy="860.7" r="5.7" class="g"/>
<circle cx="400.7" cy="743.3" r="5.7" class="r"/>
<circle cx="366.4" cy="775.9" r="5.7" class="b"/>
<circle cx="562.1" cy="950.1" r="5.7" class="g"/>
<circle cx="471.2" cy="976.1" r="5.7" class="g"/>
<circle cx="416.3" cy="857.1" r="5.7" class="g"/>
<circle cx="214.3" cy="870.4" r="5.7" class="g"/>
<circle cx="197.9" cy="662.1" r="5.7" class="r"/>
<circle cx="396.6" cy="874.7" r="5.7" class="g"/>
<circle cx="177.1" cy="767.2" r="5.7" class="g"/>
<circle cx="318.2" cy="866.0" r="5.7" class="g"/>
<circle cx="409.5" cy="822.3" r="5.7" class="g"/>
<circle cx="322.6" cy="780.3" r="5.7" class="g"/>
<circle cx="317.1" cy="772.7" r="5.7" class="g"/>
<circle cx="146.5" cy="700.4" r="5.7" class="g"/>
<circle cx="651.3" cy="821.2" r="5.7" class="g"/>
<circle cx="348.9" cy="956.9" r="5.7" class="r"/>
<circle cx="205.6" cy="772.7" r="5.7" class="b"/>
<circle cx="513.0" cy="997.6" r="5.7" class="r"/>
<circle cx="212.1" cy="970.0" r="5.7" class="g"/>
<circle cx="206.7" cy="994.1" r="5.7" class="g"/>
<circle cx="204.5" cy="845.2" r="5.7" class="g"/>
<circle cx="319.3" cy="913.1" r="5.7" class="g"/>
<circle cx="464.4" cy="681.8" r="5.7" class="b"/>
<circle cx="273.3" cy="912.0" r="5.7" class="g"/>
<circle cx="236.2" cy="953.6" r="5.7" class="r"/>
<circle cx="554.9" cy="911.5" r="5.7" class="r"/>
<circle cx="195.7" cy="664.3" r="5.7" class="g"/>
<circle cx="415.9" cy="736.3" r="5.7" class="g"/>
<circle cx="273.3" cy="993.0" r="5.7" class="g"/>
<circle cx="216.5" cy="858.3" r="5.7" class="g"/>
<circle cx="615.1" cy="764.3" r="5.7" class="r"/>
<circle cx="635.6" cy="917.5" r="5.7" class="g"/>
<circle cx="208.9" cy="940.4" r="5.7" class="g"/>
<circle cx="189.2" cy="715.7" r="5.7" class="g"/>
<circle cx="510.8" cy="642.2" r="5.7" class="g"/>
<circle cx="405.5" cy="949.0" r="5.7" class="r"/>
<circle cx="305.1" cy="752.9" r="5.7" class="g"/>
<circle cx="402.2" cy="663.7" r="5.7" class="r"/>
<circle cx="651.3" cy="882.6" r="5.7" class="r"/>
<circle cx="559.7" cy="938.0" r="5.7" class="r"/>
<circle cx="214.3" cy="693.8" r="5.7" class="r"/>
<circle cx="259.1" cy="687.3" r="5.7" class="r"/>
<circle cx="562.1" cy="795.6" r="5.7" class="g"/>
<circle cx="220.1" cy="976.0" r="5.7" class="g"/>
<circle cx="401.5" cy="844.6" r="5.7" class="g"/>
<circle cx="523.6" cy="817.3" r="5.7" class="r"/>
<circle cx="522.1" cy="815.3" r="5.7" class="r"/>
<circle cx="196.8" cy="790.2" r="5.7" class="g"/>
<circle cx="256.9" cy="722.3" r="5.7" class="g"/>
<circle cx="414.2" cy="750.4" r="5.7" class="g"/>
<circle cx="411.2" cy="681.8" r="5.7" class="b"/>
<circle cx="523.2" cy="809.6" r="5.7" class="r"/>
<circle cx="364.2" cy="766.1" r="5.7" class="b"/>
<circle cx="464.4" cy="713.4" r="5.7" class="g"/>
<circle cx="630.8" cy="894.7" r="5.7" class="r"/>
<circle cx="508.5" cy="852.8" r="5.7" class="r"/>
<circle cx="340.1" cy="953.6" r="5.7" class="g"/>
<circle cx="251.4" cy="863.8" r="5.7" class="r"/>
<circle cx="139.9" cy="739.4" r="5.7" class="r"/>
<circle cx="273.3" cy="955.8" r="5.7" class="g"/>
<circle cx="234.0" cy="638.0" r="5.7" class="g"/>
<circle cx="622.4" cy="654.7" r="5.7" class="r"/>
<circle cx="219.4" cy="940.9" r="5.7" class="r"/>
<circle cx="263.5" cy="783.6" r="5.7" class="g"/>
<circle cx="214.3" cy="738.7" r="5.7" class="r"/>
<circle cx="401.1" cy="860.0" r="5.7" class="g"/>
<circle cx="261.3" cy="974.4" r="5.7" class="g"/>
<circle cx="189.2" cy="872.6" r="5.7" class="g"/>
<circle cx="198.3" cy="929.1" r="5.7" class="r"/>
<circle cx="187.0" cy="821.9" r="5.7" class="g"/>
<circle cx="630.8" cy="901.9" r="5.7" class="g"/>
<circle cx="524.8" cy="810.1" r="5.7" class="r"/>
<circle cx="523.2" cy="718.0" r="5.7" class="r"/>
<circle cx="201.2" cy="942.6" r="5.7" class="g"/>
<circle cx="633.2" cy="939.2" r="5.7" class="r"/>
<circle cx="193.5" cy="843.0" r="5.7" class="g"/>
<circle cx="215.4" cy="797.8" r="5.7" class="g"/>
<circle cx="414.6" cy="981.8" r="5.7" class="g"/>
<circle cx="208.9" cy="918.5" r="5.7" class="r"/>
<circle cx="468.9" cy="714.6" r="5.7" class="g"/>
<circle cx="137.7" cy="836.4" r="5.7" class="g"/>
<circle cx="210.0" cy="703.7" r="5.7" class="r"/>
<circle cx="196.8" cy="987.5" r="5.7" class="g"/>
<circle cx="195.7" cy="982.0" r="5.7" class="g"/>
<circle cx="146.5" cy="886.8" r="5.7" class="g"/>
<circle cx="128.9" cy="809.9" r="5.7" class="g"/>
<circle cx="651.3" cy="819.7" r="5.7" class="g"/>
<circle cx="528.4" cy="841.7" r="5.7" class="r"/>
<circle cx="522.4" cy="889.8" r="5.7" class="r"/>
<circle cx="192.4" cy="681.8" r="5.7" class="r"/>
<circle cx="146.5" cy="784.7" r="5.7" class="g"/>
<circle cx="204.5" cy="674.1" r="5.7" class="r"/>
<circle cx="319.3" cy="702.6" r="5.7" class="g"/>
<circle cx="364.2" cy="921.8" r="5.7" class="r"/>
<circle cx="319.3" cy="832.0" r="5.7" class="g"/>
<circle cx="194.1" cy="662.0" r="5.7" class="g"/>
<circle cx="612.7" cy="889.8" r="5.7" class="g"/>
<circle cx="311.6" cy="675.2" r="5.7" class="r"/>
<circle cx="398.3" cy="837.6" r="5.7" class="g"/>
<circle cx="202.3" cy="895.5" r="5.7" class="r"/>
<circle cx="253.6" cy="828.8" r="5.7" class="g"/>
<circle cx="639.2" cy="742.6" r="5.7" class="b"/>
<circle cx="400.4" cy="749.3" r="5.7" class="g"/>
<circle cx="363.1" cy="983.1" r="5.7" class="r"/>
<circle cx="194.6" cy="645.7" r="5.7" class="g"/>
<circle cx="206.8" cy="909.8" r="5.7" class="g"/>
<circle cx="403.3" cy="994.2" r="5.7" class="g"/>
<circle cx="211.0" cy="690.5" r="5.7" class="r"/>
<circle cx="461.0" cy="789.2" r="5.7" class="g"/>
<circle cx="415.0" cy="835.8" r="5.7" class="g"/>
<circle cx="131.1" cy="770.9" r="5.7" class="g"/>
<circle cx="321.5" cy="812.1" r="5.7" class="g"/>
<circle cx="635.6" cy="989.8" r="5.7" class="r"/>
<circle cx="214.2" cy="827.3" r="5.7" class="g"/>
<circle cx="626.0" cy="790.8" r="5.7" class="r"/>
<circle cx="308.4" cy="736.5" r="5.7" class="g"/>
<circle cx="478.0" cy="819.8" r="5.7" class="g"/>
<circle cx="192.5" cy="652.2" r="5.7" class="g"/>
<circle cx="479.1" cy="832.4" r="5.7" class="g"/>
<circle cx="396.7" cy="769.1" r="5.7" class="g"/>
<circle cx="459.9" cy="799.4" r="5.7" class="g"/>
<circle cx="236.1" cy="730.0" r="5.7" class="r"/>
<circle cx="475.7" cy="963.7" r="5.7" class="g"/>
<circle cx="346.7" cy="872.6" r="5.7" class="g"/>
<circle cx="126.7" cy="751.9" r="5.7" class="g"/>
<circle cx="409.0" cy="745.5" r="5.7" class="g"/>
<circle cx="416.5" cy="866.0" r="5.7" class="r"/>
<circle cx="216.6" cy="776.2" r="5.7" class="g"/>
<circle cx="261.3" cy="1008.3" r="5.7" class="g"/>
<circle cx="622.4" cy="833.2" r="5.7" class="r"/>
<circle cx="299.6" cy="744.2" r="5.7" class="g"/>
<circle cx="508.5" cy="781.3" r="5.7" class="g"/>
<circle cx="255.8" cy="961.2" r="5.7" class="g"/>
<circle cx="521.0" cy="890.2" r="5.7" class="r"/>
<circle cx="521.2" cy="664.4" r="5.7" class="g"/>
<circle cx="204.5" cy="812.1" r="5.7" class="g"/>
<circle cx="395.5" cy="740.6" r="5.7" class="g"/>
<circle cx="206.2" cy="674.6" r="5.7" class="r"/>
<circle cx="191.3" cy="857.2" r="5.7" class="r"/>
<circle cx="422.5" cy="845.5" r="5.7" class="g"/>
<circle cx="609.1" cy="805.3" r="5.7" class="r"/>
<circle cx="130.0" cy="845.2" r="5.7" class="g"/>
<circle cx="476.8" cy="851.7" r="5.7" class="r"/>
<circle cx="195.7" cy="717.9" r="5.7" class="g"/>
<circle cx="409.7" cy="859.0" r="5.7" class="g"/>
<circle cx="646.4" cy="784.8" r="5.7" class="r"/>
<circle cx="346.7" cy="1008.3" r="5.7" class="r"/>
<circle cx="629.6" cy="839.3" r="5.7" class="b"/>
<circle cx="475.7" cy="890.2" r="5.7" class="g"/>
<circle cx="615.1" cy="742.6" r="5.7" class="b"/>
<circle cx="185.9" cy="823.3" r="5.7" class="g"/>
<circle cx="213.2" cy="643.5" r="5.7" class="g"/>
<circle cx="259.1" cy="883.5" r="5.7" class="g"/>
<circle cx="418.9" cy="853.7" r="5.7" class="g"/>
<circle cx="254.7" cy="782.5" r="5.7" class="g"/>
<circle cx="316.0" cy="859.4" r="5.7" class="g"/>
<circle cx="394.3" cy="740.9" r="5.7" class="g"/>
<circle cx="216.4" cy="922.7" r="5.7" class="g"/>
<circle cx="626.0" cy="747.5" r="5.7" class="b"/>
<circle cx="406.2" cy="808.9" r="5.7" class="r"/>
<circle cx="467.8" cy="642.2" r="5.7" class="g"/>
<circle cx="211.7" cy="693.4" r="5.7" class="g"/>
<circle cx="193.5" cy="727.8" r="5.7" class="g"/>
<circle cx="332.4" cy="806.6" r="5.7" class="g"/>
<circle cx="306.2" cy="935.0" r="5.7" class="g"/>
<circle cx="610.3" cy="835.7" r="5.7" class="g"/>
<circle cx="628.4" cy="745.1" r="5.7" class="g"/>
<circle cx="632.0" cy="868.2" r="5.7" class="r"/>
<circle cx="261.3" cy="983.1" r="5.7" class="g"/>
<circle cx="202.3" cy="920.7" r="5.7" class="g"/>
<circle cx="615.1" cy="795.6" r="5.7" class="b"/>
<circle cx="458.7" cy="809.6" r="5.7" class="g"/>
<circle cx="609.1" cy="754.7" r="5.7" class="r"/>
<circle cx="202.3" cy="722.3" r="5.7" class="r"/>
<circle cx="197.9" cy="722.3" r="5.7" class="g"/>
<circle cx="178.2" cy="978.7" r="5.7" class="g"/>
<circle cx="126.7" cy="716.8" r="5.7" class="g"/>
<circle cx="640.4" cy="969.3" r="5.7" class="g"/>
<circle cx="196.8" cy="967.8" r="5.7" class="g"/>
<circle cx="640.4" cy="945.2" r="5.7" class="r"/>
<circle cx="575.4" cy="1004.2" r="5.7" class="r"/>
<circle cx="212.2" cy="840.4" r="5.7" class="r"/>
<circle cx="364.2" cy="859.4" r="5.7" class="r"/>
<circle cx="208.9" cy="778.1" r="5.7" class="g"/>
<circle cx="638.0" cy="981.4" r="5.7" class="r"/>
<circle cx="262.4" cy="878.0" r="5.7" class="g"/>
<circle cx="262.4" cy="835.3" r="5.7" class="g"/>
<circle cx="321.5" cy="939.3" r="5.7" class="r"/>
<circle cx="191.9" cy="681.9" r="5.7" class="r"/>
<circle cx="323.7" cy="680.7" r="5.7" class="r"/>
<circle cx="395.4" cy="677.2" r="5.7" class="g"/>
<circle cx="261.3" cy="822.2" r="5.7" class="g"/>
<circle cx="253.6" cy="826.3" r="5.7" class="g"/>
<circle cx="410.1" cy="637.6" r="5.7" class="r"/>
<circle cx="352.1" cy="885.7" r="5.7" class="r"/>
<circle cx="568.2" cy="970.5" r="5.7" class="r"/>
<circle cx="191.3" cy="896.6" r="5.7" class="g"/>
<circle cx="337.9" cy="861.6" r="5.7" class="g"/>
<circle cx="190.3" cy="704.0" r="5.7" class="r"/>
<circle cx="252.5" cy="922.9" r="5.7" class="g"/>
<circle cx="611.5" cy="830.8" r="5.7" class="g"/>
<circle cx="642.8" cy="883.8" r="5.7" class="b"/>
<circle cx="208.9" cy="687.3" r="5.7" class="r"/>
<circle cx="420.3" cy="706.6" r="5.7" class="r"/>
<circle cx="211.0" cy="907.6" r="5.7" class="g"/>
<circle cx="256.9" cy="746.4" r="5.7" class="b"/>
<circle cx="232.9" cy="792.4" r="5.7" class="r"/>
<circle cx="458.7" cy="714.6" r="5.7" class="g"/>
<circle cx="187.0" cy="914.2" r="5.7" class="g"/>
<circle cx="406.7" cy="699.9" r="5.7" class="r"/>
<circle cx="177.1" cy="836.4" r="5.7" class="g"/>
<circle cx="193.1" cy="767.2" r="5.7" class="g"/>
<circle cx="200.1" cy="761.7" r="5.7" class="g"/>
<circle cx="327.0" cy="771.6" r="5.7" class="g"/>
<circle cx="517.6" cy="762.1" r="5.7" class="g"/>
<circle cx="408.9" cy="989.7" r="5.7" class="g"/>
<circle cx="467.8" cy="830.2" r="5.7" class="g"/>
<circle cx="132.2" cy="811.0" r="5.7" class="g"/>
<circle cx="322.6" cy="851.7" r="5.7" class="g"/>
<circle cx="473.4" cy="655.7" r="5.7" class="g"/>
<circle cx="411.2" cy="949.0" r="5.7" class="g"/>
<circle cx="238.4" cy="839.7" r="5.7" class="g"/>
<circle cx="203.4" cy="668.6" r="5.7" class="r"/>
<circle cx="311.6" cy="925.1" r="5.7" class="g"/>
<circle cx="212.0" cy="747.9" r="5.7" class="b"/>
<circle cx="626.0" cy="857.3" r="5.7" class="b"/>
<circle cx="573.0" cy="891.1" r="5.7" class="r"/>
<circle cx="463.3" cy="629.7" r="5.7" class="g"/>
<circle cx="265.7" cy="885.7" r="5.7" class="g"/>
<circle cx="365.3" cy="904.3" r="5.7" class="r"/>
<circle cx="411.2" cy="690.8" r="5.7" class="g"/>
<circle cx="188.1" cy="700.4" r="5.7" class="r"/>
<circle cx="336.8" cy="918.5" r="5.7" class="g"/>
<circle cx="639.2" cy="835.7" r="5.7" class="g"/>
<circle cx="180.4" cy="967.8" r="5.7" class="g"/>
<circle cx="632.0" cy="907.9" r="5.7" class="r"/>
<circle cx="622.4" cy="634.3" r="5.7" class="r"/>
<circle cx="265.7" cy="1001.7" r="5.7" class="g"/>
<circle cx="609.1" cy="900.7" r="5.7" class="g"/>
<circle cx="412.9" cy="796.3" r="5.7" class="g"/>
<circle cx="193.5" cy="705.9" r="5.7" class="r"/>
<circle cx="121.3" cy="813.2" r="5.7" class="g"/>
<circle cx="367.5" cy="669.7" r="5.7" class="r"/>
<circle cx="407.8" cy="715.7" r="5.7" class="r"/>
<circle cx="240.5" cy="647.8" r="5.7" class="r"/>
<circle cx="414.6" cy="860.7" r="5.7" class="g"/>
<circle cx="401.8" cy="769.5" r="5.7" class="r"/>
<circle cx="193.5" cy="640.2" r="5.7" class="g"/>
<circle cx="459.9" cy="887.9" r="5.7" class="g"/>
<circle cx="305.1" cy="664.3" r="5.7" class="r"/>
<circle cx="403.8" cy="781.1" r="5.7" class="g"/>
<circle cx="195.7" cy="790.2" r="5.7" class="b"/>
<circle cx="204.5" cy="685.1" r="5.7" class="g"/>
<circle cx="413.6" cy="777.4" r="5.7" class="r"/>
<circle cx="456.5" cy="670.4" r="5.7" class="r"/>
<circle cx="419.1" cy="642.2" r="5.7" class="r"/>
<circle cx="323.7" cy="731.0" r="5.7" class="r"/>
<circle cx="526.6" cy="777.9" r="5.7" class="r"/>
<circle cx="417.1" cy="761.1" r="5.7" class="r"/>
<circle cx="468.9" cy="853.9" r="5.7" class="g"/>
<circle cx="216.5" cy="849.6" r="5.7" class="g"/>
<circle cx="652.5" cy="932.0" r="5.7" class="g"/>
<circle cx="459.9" cy="925.2" r="5.7" class="g"/>
<circle cx="254.7" cy="724.5" r="5.7" class="g"/>
<circle cx="217.3" cy="957.8" r="5.7" class="g"/>
<circle cx="404.4" cy="863.0" r="5.7" class="r"/>
<circle cx="576.6" cy="795.6" r="5.7" class="r"/>
<circle cx="266.7" cy="1007.2" r="5.7" class="g"/>
<circle cx="205.1" cy="895.1" r="5.7" class="r"/>
<circle cx="399.7" cy="830.1" r="5.7" class="r"/>
<circle cx="403.9" cy="877.6" r="5.7" class="g"/>
<circle cx="422.9" cy="740.8" r="5.7" class="r"/>
<circle cx="256.9" cy="802.2" r="5.7" class="r"/>
<circle cx="633.2" cy="829.6" r="5.7" class="g"/>
<circle cx="317.1" cy="960.1" r="5.7" class="g"/>
<circle cx="195.7" cy="939.3" r="5.7" class="r"/>
<circle cx="247.0" cy="680.7" r="5.7" class="r"/>
<circle cx="240.6" cy="647.8" r="5.7" class="r"/>
<circle cx="457.6" cy="1011.2" r="5.7" class="r"/>
<circle cx="313.8" cy="832.0" r="5.7" class="g"/>
<circle cx="225.3" cy="829.9" r="5.7" class="r"/>
<circle cx="522.4" cy="783.6" r="5.7" class="r"/>
<circle cx="397.6" cy="728.1" r="5.7" class="g"/>
<circle cx="644.0" cy="733.0" r="5.7" class="r"/>
<circle cx="218.2" cy="791.8" r="5.7" class="g"/>
<circle cx="467.8" cy="818.7" r="5.7" class="g"/>
<circle cx="405.5" cy="944.5" r="5.7" class="g"/>
<circle cx="191.3" cy="904.3" r="5.7" class="g"/>
<circle cx="305.1" cy="937.1" r="5.7" class="g"/>
<circle cx="201.3" cy="862.9" r="5.7" class="g"/>
<circle cx="411.4" cy="827.6" r="5.7" class="b"/>
<circle cx="201.0" cy="836.8" r="5.7" class="g"/>
<circle cx="265.7" cy="750.8" r="5.7" class="g"/>
<circle cx="312.7" cy="909.8" r="5.7" class="g"/>
<circle cx="254.7" cy="938.2" r="5.7" class="g"/>
<circle cx="648.9" cy="905.5" r="5.7" class="r"/>
<circle cx="267.8" cy="826.3" r="5.7" class="g"/>
<circle cx="255.8" cy="768.3" r="5.7" class="g"/>
<circle cx="217.6" cy="774.8" r="5.7" class="g"/>
<circle cx="474.6" cy="635.4" r="5.7" class="g"/>
<circle cx="343.4" cy="844.1" r="5.7" class="r"/>
<circle cx="571.8" cy="932.0" r="5.7" class="g"/>
<circle cx="410.1" cy="850.5" r="5.7" class="b"/>
<circle cx="306.2" cy="656.6" r="5.7" class="r"/>
<circle cx="412.3" cy="921.8" r="5.7" class="g"/>
<circle cx="358.7" cy="811.0" r="5.7" class="r"/>
<circle cx="319.3" cy="648.9" r="5.7" class="r"/>
<circle cx="274.4" cy="929.5" r="5.7" class="g"/>
<circle cx="622.4" cy="798.0" r="5.7" class="g"/>
<circle cx="329.2" cy="726.7" r="5.7" class="b"/>
<circle cx="189.2" cy="807.7" r="5.7" class="g"/>
<circle cx="182.6" cy="904.3" r="5.7" class="g"/>
<circle cx="557.3" cy="828.4" r="5.7" class="r"/>
<circle cx="210.3" cy="872.6" r="5.7" class="r"/>
<circle cx="205.6" cy="988.6" r="5.7" class="g"/>
<circle cx="455.3" cy="635.4" r="5.7" class="g"/>
<circle cx="640.4" cy="892.3" r="5.7" class="g"/>
<circle cx="238.3" cy="916.3" r="5.7" class="g"/>
<circle cx="407.8" cy="708.9" r="5.7" class="r"/>
<circle cx="412.3" cy="874.3" r="5.7" class="r"/>
<circle cx="195.8" cy="968.7" r="5.7" class="r"/>
<circle cx="403.3" cy="881.1" r="5.7" class="r"/>
<circle cx="263.5" cy="963.4" r="5.7" class="g"/>
<circle cx="639.2" cy="731.8" r="5.7" class="r"/>
<circle cx="355.4" cy="855.0" r="5.7" class="g"/>
<circle cx="402.2" cy="857.3" r="5.7" class="g"/>
<circle cx="650.1" cy="921.2" r="5.7" class="r"/>
<circle cx="651.3" cy="748.7" r="5.7" class="b"/>
<circle cx="413.6" cy="770.8" r="5.7" class="g"/>
<circle cx="628.4" cy="854.9" r="5.7" class="g"/>
<circle cx="421.0" cy="762.3" r="5.7" class="r"/>
<circle cx="633.2" cy="760.7" r="5.7" class="g"/>
<circle cx="134.4" cy="906.5" r="5.7" class="g"/>
<circle cx="611.5" cy="783.6" r="5.7" class="g"/>
<circle cx="329.2" cy="947.0" r="5.7" class="r"/>
<circle cx="645.2" cy="911.5" r="5.7" class="r"/>
<circle cx="128.9" cy="642.4" r="5.7" class="r"/>
<circle cx="348.9" cy="859.4" r="5.7" class="r"/>
<circle cx="270.0" cy="827.7" r="5.7" class="g"/>
<circle cx="307.3" cy="728.9" r="5.7" class="r"/>
<circle cx="417.7" cy="832.0" r="5.7" class="g"/>
<circle cx="180.4" cy="910.9" r="5.7" class="g"/>
<circle cx="206.7" cy="796.7" r="5.7" class="r"/>
<circle cx="249.2" cy="629.2" r="5.7" class="r"/>
<circle cx="364.2" cy="781.4" r="5.7" class="r"/>
<circle cx="213.2" cy="828.8" r="5.7" class="g"/>
<circle cx="401.2" cy="790.6" r="5.7" class="r"/>
<circle cx="243.9" cy="775.9" r="5.7" class="b"/>
<circle cx="203.4" cy="745.6" r="5.7" class="g"/>
<circle cx="347.8" cy="689.4" r="5.7" class="r"/>
<circle cx="194.6" cy="807.7" r="5.7" class="g"/>
<circle cx="522.1" cy="861.9" r="5.7" class="r"/>
<circle cx="182.6" cy="957.9" r="5.7" class="g"/>
<circle cx="267.8" cy="919.6" r="5.7" class="g"/>
<circle cx="621.2" cy="895.9" r="5.7" class="g"/>
<circle cx="396.5" cy="824.5" r="5.7" class="r"/>
<circle cx="149.3" cy="980.9" r="5.7" class="g"/>
<circle cx="272.2" cy="785.8" r="5.7" class="g"/>
<circle cx="208.9" cy="816.4" r="5.7" class="r"/>
<circle cx="422.5" cy="818.1" r="5.7" class="g"/>
<circle cx="404.1" cy="821.6" r="5.7" class="g"/>
<circle cx="420.1" cy="769.4" r="5.7" class="g"/>
<circle cx="209.0" cy="734.8" r="5.7" class="g"/>
<circle cx="252.5" cy="745.3" r="5.7" class="r"/>
<circle cx="417.6" cy="803.9" r="5.7" class="g"/>
<circle cx="212.1" cy="957.9" r="5.7" class="g"/>
<circle cx="200.1" cy="868.2" r="5.7" class="r"/>
<circle cx="127.8" cy="895.5" r="5.7" class="g"/>
<circle cx="123.5" cy="843.0" r="5.7" class="g"/>
<circle cx="182.6" cy="867.1" r="5.7" class="g"/>
<circle cx="407.8" cy="912.8" r="5.7" class="g"/>
<circle cx="345.6" cy="813.2" r="5.7" class="r"/>
<circle cx="127.8" cy="1000.0" r="5.7" class="g"/>
<circle cx="311.6" cy="878.0" r="5.7" class="g"/>
<circle cx="219.5" cy="850.4" r="5.7" class="b"/>
<circle cx="404.6" cy="824.9" r="5.7" class="g"/>
<circle cx="407.8" cy="874.3" r="5.7" class="g"/>
<circle cx="308.4" cy="837.5" r="5.7" class="g"/>
<circle cx="651.3" cy="863.4" r="5.7" class="r"/>
<circle cx="466.6" cy="669.3" r="5.7" class="g"/>
<circle cx="618.7" cy="712.5" r="5.7" class="r"/>
<circle cx="313.8" cy="797.8" r="5.7" class="r"/>
<circle cx="263.5" cy="867.1" r="5.7" class="g"/>
<circle cx="195.7" cy="914.2" r="5.7" class="g"/>
<circle cx="143.2" cy="798.9" r="5.7" class="r"/>
<circle cx="519.8" cy="782.5" r="5.7" class="r"/>
<circle cx="397.4" cy="755.8" r="5.7" class="r"/>
<circle cx="416.9" cy="734.9" r="5.7" class="r"/>
<circle cx="414.6" cy="833.6" r="5.7" class="g"/>
<circle cx="232.9" cy="731.0" r="5.7" class="r"/>
<circle cx="318.2" cy="996.3" r="5.7" class="r"/>
<circle cx="346.7" cy="775.9" r="5.7" class="g"/>
<circle cx="120.2" cy="884.6" r="5.7" class="g"/>
<circle cx="130.0" cy="887.9" r="5.7" class="g"/>
<circle cx="647.6" cy="692.1" r="5.7" class="g"/>
<circle cx="616.3" cy="724.6" r="5.7" class="r"/>
<circle cx="261.3" cy="892.3" r="5.7" class="b"/>
<circle cx="415.7" cy="638.8" r="5.7" class="b"/>
<circle cx="195.7" cy="674.1" r="5.7" class="r"/>
<circle cx="221.9" cy="889.0" r="5.7" class="r"/>
<circle cx="404.4" cy="752.8" r="5.7" class="r"/>
<circle cx="411.2" cy="909.4" r="5.7" class="g"/>
<circle cx="633.2" cy="792.0" r="5.7" class="r"/>
<circle cx="131.1" cy="737.6" r="5.7" class="g"/>
<circle cx="225.3" cy="968.9" r="5.7" class="r"/>
<circle cx="202.0" cy="723.6" r="5.7" class="g"/>
<circle cx="197.0" cy="973.2" r="5.7" class="r"/>
<circle cx="623.6" cy="877.8" r="5.7" class="g"/>
<circle cx="397.6" cy="841.5" r="5.7" class="r"/>
<circle cx="204.5" cy="906.5" r="5.7" class="g"/>
<circle cx="259.1" cy="894.4" r="5.7" class="g"/>
<circle cx="405.2" cy="842.6" r="5.7" class="g"/>
<circle cx="197.9" cy="783.6" r="5.7" class="r"/>
<circle cx="195.7" cy="886.8" r="5.7" class="g"/>
<circle cx="237.2" cy="953.6" r="5.7" class="r"/>
<circle cx="193.5" cy="777.0" r="5.7" class="g"/>
<circle cx="642.8" cy="852.5" r="5.7" class="g"/>
<circle cx="467.8" cy="780.2" r="5.7" class="g"/>
<circle cx="417.9" cy="822.5" r="5.7" class="g"/>
<circle cx="396.7" cy="817.9" r="5.7" class="g"/>
<circle cx="210.0" cy="890.1" r="5.7" class="g"/>
<circle cx="642.8" cy="781.2" r="5.7" class="g"/>
<circle cx="256.9" cy="775.9" r="5.7" class="g"/>
<circle cx="213.2" cy="748.6" r="5.7" class="r"/>
<circle cx="256.9" cy="897.7" r="5.7" class="g"/>
<circle cx="508.5" cy="893.5" r="5.7" class="b"/>
<circle cx="422.8" cy="729.7" r="5.7" class="g"/>
<circle cx="356.5" cy="771.6" r="5.7" class="r"/>
<circle cx="420.0" cy="816.6" r="5.7" class="g"/>
<circle cx="253.6" cy="666.5" r="5.7" class="r"/>
<circle cx="194.6" cy="829.9" r="5.7" class="g"/>
<circle cx="646.4" cy="805.3" r="5.7" class="r"/>
<circle cx="478.0" cy="645.5" r="5.7" class="g"/>
<circle cx="131.1" cy="909.8" r="5.7" class="g"/>
<circle cx="202.3" cy="887.9" r="5.7" class="r"/>
<circle cx="215.4" cy="714.6" r="5.7" class="r"/>
<circle cx="321.5" cy="985.3" r="5.7" class="g"/>
<circle cx="192.1" cy="738.7" r="5.7" class="g"/>
<circle cx="419.0" cy="858.3" r="5.7" class="g"/>
<circle cx="571.8" cy="907.9" r="5.7" class="r"/>
<circle cx="348.9" cy="933.9" r="5.7" class="g"/>
<circle cx="236.1" cy="791.3" r="5.7" class="r"/>
<circle cx="255.8" cy="937.1" r="5.7" class="g"/>
<circle cx="563.4" cy="958.5" r="5.7" class="r"/>
<circle cx="273.3" cy="975.5" r="5.7" class="g"/>
<circle cx="411.4" cy="875.6" r="5.7" class="g"/>
<circle cx="405.6" cy="781.7" r="5.7" class="r"/>
<circle cx="405.9" cy="803.6" r="5.7" class="g"/>
<circle cx="634.4" cy="876.6" r="5.7" class="g"/>
<circle cx="405.3" cy="762.1" r="5.7" class="r"/>
<circle cx="395.3" cy="784.7" r="5.7" class="g"/>
<circle cx="456.5" cy="976.1" r="5.7" class="g"/>
<circle cx="472.3" cy="629.7" r="5.7" class="g"/>
<circle cx="406.7" cy="896.9" r="5.7" class="g"/>
<circle cx="318.2" cy="800.0" r="5.7" class="g"/>
<circle cx="615.1" cy="719.8" r="5.7" class="g"/>
<circle cx="635.6" cy="926.0" r="5.7" class="r"/>
<circle cx="463.3" cy="978.4" r="5.7" class="g"/>
<circle cx="191.3" cy="933.9" r="5.7" class="g"/>
<circle cx="398.3" cy="839.5" r="5.7" class="r"/>
<circle cx="638.0" cy="751.1" r="5.7" class="g"/>
<circle cx="259.1" cy="744.2" r="5.7" class="r"/>
<circle cx="250.3" cy="661.0" r="5.7" class="r"/>
<circle cx="626.0" cy="666.8" r="5.7" class="r"/>
<circle cx="275.5" cy="780.3" r="5.7" class="g"/>
<circle cx="412.3" cy="1002.2" r="5.7" class="g"/>
<circle cx="400.1" cy="871.3" r="5.7" class="g"/>
<circle cx="396.5" cy="853.9" r="5.7" class="g"/>
<circle cx="214.3" cy="815.4" r="5.7" class="r"/>
<circle cx="216.5" cy="898.8" r="5.7" class="g"/>
<circle cx="187.0" cy="834.2" r="5.7" class="g"/>
<circle cx="195.7" cy="751.9" r="5.7" class="r"/>
<circle cx="196.8" cy="811.0" r="5.7" class="g"/>
<circle cx="248.1" cy="654.4" r="5.7" class="r"/>
<circle cx="651.3" cy="763.1" r="5.7" class="r"/>
<circle cx="264.6" cy="857.2" r="5.7" class="g"/>
<circle cx="461.0" cy="691.9" r="5.7" class="g"/>
<circle cx="250.3" cy="868.2" r="5.7" class="g"/>
<circle cx="362.0" cy="797.8" r="5.7" class="g"/>
<circle cx="404.8" cy="775.0" r="5.7" class="g"/>
<circle cx="410.1" cy="891.3" r="5.7" class="g"/>
<circle cx="409.4" cy="866.2" r="5.7" class="g"/>
<circle cx="236.2" cy="916.3" r="5.7" class="g"/>
<circle cx="266.7" cy="914.2" r="5.7" class="g"/>
<circle cx="261.3" cy="717.9" r="5.7" class="g"/>
<circle cx="200.1" cy="824.1" r="5.7" class="g"/>
<circle cx="250.3" cy="846.3" r="5.7" class="b"/>
<circle cx="651.3" cy="734.2" r="5.7" class="g"/>
<circle cx="414.6" cy="665.9" r="5.7" class="g"/>
<circle cx="194.0" cy="942.1" r="5.7" class="g"/>
<circle cx="253.6" cy="974.4" r="5.7" class="g"/>
<circle cx="641.6" cy="824.5" r="5.7" class="r"/>
<circle cx="395.4" cy="710.0" r="5.7" class="g"/>
<circle cx="364.2" cy="855.0" r="5.7" class="r"/>
<circle cx="193.5" cy="828.8" r="5.7" class="b"/>
<circle cx="476.8" cy="868.7" r="5.7" class="g"/>
<circle cx="618.7" cy="742.6" r="5.7" class="r"/>
<circle cx="313.8" cy="897.7" r="5.7" class="g"/>
<circle cx="470.0" cy="822.3" r="5.7" class="g"/>
<circle cx="211.0" cy="914.2" r="5.7" class="r"/>
<circle cx="214.3" cy="949.2" r="5.7" class="g"/>
<circle cx="633.2" cy="945.2" r="5.7" class="g"/>
<circle cx="267.8" cy="837.5" r="5.7" class="g"/>
<circle cx="142.1" cy="851.7" r="5.7" class="g"/>
<circle cx="201.6" cy="868.7" r="5.7" class="r"/>
<circle cx="529.6" cy="778.8" r="5.7" class="r"/>
<circle cx="397.4" cy="794.9" r="5.7" class="r"/>
<circle cx="612.7" cy="822.1" r="5.7" class="g"/>
<circle cx="404.5" cy="865.6" r="5.7" class="r"/>
<circle cx="396.5" cy="702.1" r="5.7" class="g"/>
<circle cx="418.0" cy="824.5" r="5.7" class="g"/>
<circle cx="409.1" cy="879.6" r="5.7" class="g"/>
<circle cx="324.8" cy="905.4" r="5.7" class="r"/>
<circle cx="517.6" cy="884.5" r="5.7" class="r"/>
<circle cx="404.4" cy="906.0" r="5.7" class="g"/>
<circle cx="554.9" cy="981.4" r="5.7" class="r"/>
<circle cx="480.2" cy="783.6" r="5.7" class="g"/>
<circle cx="310.5" cy="673.0" r="5.7" class="r"/>
<circle cx="204.5" cy="833.1" r="5.7" class="r"/>
<circle cx="244.9" cy="775.9" r="5.7" class="b"/>
<circle cx="421.0" cy="776.2" r="5.7" class="r"/>
<circle cx="202.3" cy="757.3" r="5.7" class="r"/>
<circle cx="404.8" cy="818.1" r="5.7" class="g"/>
<circle cx="617.5" cy="796.8" r="5.7" class="g"/>
<circle cx="395.5" cy="797.9" r="5.7" class="g"/>
<circle cx="255.8" cy="689.4" r="5.7" class="r"/>
<circle cx="638.0" cy="692.1" r="5.7" class="g"/>
<circle cx="521.2" cy="988.6" r="5.7" class="g"/>
<circle cx="138.8" cy="656.6" r="5.7" class="r"/>
<circle cx="411.3" cy="781.2" r="5.7" class="g"/>
<circle cx="197.9" cy="862.7" r="5.7" class="b"/>
<circle cx="410.0" cy="837.1" r="5.7" class="b"/>
<circle cx="409.5" cy="806.8" r="5.7" class="r"/>
<circle cx="420.1" cy="757.8" r="5.7" class="g"/>
<circle cx="398.9" cy="729.4" r="5.7" class="r"/>
<circle cx="526.6" cy="841.5" r="5.7" class="r"/>
<circle cx="120.2" cy="804.4" r="5.7" class="g"/>
<circle cx="198.6" cy="803.5" r="5.7" class="g"/>
<circle cx="125.7" cy="806.6" r="5.7" class="g"/>
<circle cx="409.7" cy="756.6" r="5.7" class="g"/>
<circle cx="646.4" cy="645.1" r="5.7" class="r"/>
<circle cx="251.4" cy="906.5" r="5.7" class="g"/>
<circle cx="197.4" cy="783.0" r="5.7" class="g"/>
<circle cx="517.6" cy="663.7" r="5.7" class="g"/>
<circle cx="236.1" cy="638.0" r="5.7" class="g"/>
<circle cx="404.1" cy="833.1" r="5.7" class="r"/>
<circle cx="403.8" cy="862.1" r="5.7" class="r"/>
<circle cx="181.5" cy="808.8" r="5.7" class="g"/>
<circle cx="418.0" cy="864.1" r="5.7" class="g"/>
<circle cx="256.9" cy="697.1" r="5.7" class="g"/>
<circle cx="340.1" cy="876.9" r="5.7" class="g"/>
<circle cx="263.5" cy="738.7" r="5.7" class="g"/>
<circle cx="255.8" cy="661.0" r="5.7" class="r"/>
</g>
<path d="M119.70,682.37 L201.05,690.16 L282.40,698.58 L363.75,705.67 L445.10,714.61 L526.45,722.77 L607.80,710.52 L683.80,698.50" fill="none" stroke="#619CFF" stroke-opacity="0.6" stroke-width="3" stroke-dasharray="12.2 12.2"/>
<path d="M119.70,716.86 L201.05,727.30 L282.40,737.85 L363.75,749.15 L445.10,759.88 L526.45,770.62 L607.80,774.41 L683.80,777.20" fill="none" stroke="#F8766D" stroke-opacity="0.6" stroke-width="3" stroke-dasharray="12.2 12.2"/>
<path d="M119.70,775.96 L201.05,785.07 L282.40,794.95 L363.75,801.98 L445.10,814.17 L526.45,823.57 L607.80,840.35 L683.80,856.46" fill="none" stroke="#F8766D" stroke-opacity="0.6" stroke-width="3" stroke-dasharray="12.2 12.2"/>
<path d="M119.70,818.91 L201.05,816.17 L282.40,813.92 L363.75,809.27 L445.10,808.45 L526.45,805.50 L607.80,823.21 L683.80,840.09" fill="none" stroke="#619CFF" stroke-opacity="0.6" stroke-width="3" stroke-dasharray="12.2 12.2"/>
<path d="M119.70,831.72 L201.05,824.97 L282.40,817.67 L363.75,811.77 L445.10,803.89 L526.45,796.50 L607.80,782.19 L683.80,768.68" fill="none" stroke="#00BA38" stroke-opacity="0.6" stroke-width="3" stroke-dasharray="12.2 12.2"/>
<path d="M119.70,885.53 L201.05,878.34 L282.40,871.32 L363.75,864.60 L445.10,857.67 L526.45,850.19 L607.80,850.20 L683.80,850.20" fill="none" stroke="#00BA38" stroke-opacity="0.6" stroke-width="3" stroke-dasharray="12.2 12.2"/>
<line x1="120.00" y1="746.20" x2="683.80" y2="817.00" stroke="#F8766D" stroke-width="3.3"/>
<line x1="120.00" y1="858.80" x2="683.80" y2="809.60" stroke="#00BA38" stroke-width="3.3"/>
<line x1="120.00" y1="750.60" x2="683.80" y2="769.30" stroke="#619CFF" stroke-width="3.3"/>
<line x1="85.2" y1="1017.4" x2="93.2" y2="1017.4" stroke="#333" stroke-width="3"/>
<line x1="85.2" y1="929.2" x2="93.2" y2="929.2" stroke="#333" stroke-width="3"/>
<line x1="85.2" y1="841.0" x2="93.2" y2="841.0" stroke="#333" stroke-width="3"/>
<line x1="85.2" y1="752.9" x2="93.2" y2="752.9" stroke="#333" stroke-width="3"/>
<line x1="85.2" y1="664.8" x2="93.2" y2="664.8" stroke="#333" stroke-width="3"/>
<line x1="119.7" y1="1036.5" x2="119.7" y2="1044.8" stroke="#333" stroke-width="3"/>
<line x1="282.4" y1="1036.5" x2="282.4" y2="1044.8" stroke="#333" stroke-width="3"/>
<line x1="445.1" y1="1036.5" x2="445.1" y2="1044.8" stroke="#333" stroke-width="3"/>
<line x1="607.8" y1="1036.5" x2="607.8" y2="1044.8" stroke="#333" stroke-width="3"/>
<line x1="93.2" y1="610.4" x2="93.2" y2="1036.5" stroke="#000" stroke-width="3"/>
<line x1="93.0" y1="1036.5" x2="683.4" y2="1036.5" stroke="#000" stroke-width="3"/>
<text x="78.3" y="1027.0" font-size="26.4" fill="#4D4D4D" text-anchor="end">3.5</text>
<text x="78.3" y="938.8" font-size="26.4" fill="#4D4D4D" text-anchor="end">4.0</text>
<text x="78.3" y="850.6" font-size="26.4" fill="#4D4D4D" text-anchor="end">4.5</text>
<text x="78.3" y="762.5" font-size="26.4" fill="#4D4D4D" text-anchor="end">5.0</text>
<text x="78.3" y="674.4" font-size="26.4" fill="#4D4D4D" text-anchor="end">5.5</text>
<text x="119.7" y="1070.3" font-size="26.4" fill="#4D4D4D" text-anchor="middle">0.0</text>
<text x="282.4" y="1070.3" font-size="26.4" fill="#4D4D4D" text-anchor="middle">0.2</text>
<text x="445.1" y="1070.3" font-size="26.4" fill="#4D4D4D" text-anchor="middle">0.4</text>
<text x="607.8" y="1070.3" font-size="26.4" fill="#4D4D4D" text-anchor="middle">0.6</text>
<text x="386.5" y="1108.2" font-size="33" fill="#000" text-anchor="middle">Artificial surface [%]</text>
<text x="136.3" y="639.5" font-size="43.5" font-weight="bold" fill="#000">B</text>
<text transform="translate(26.1,824) rotate(-90)" font-size="33" fill="#000" text-anchor="middle">Area (Box-Cox transformed)</text>
<g class="ptc">
<circle cx="165.6" cy="1229.2" r="5.6"/>
<circle cx="188.7" cy="1231.7" r="5.6"/>
<circle cx="183.0" cy="1240.5" r="5.6"/>
<circle cx="188.1" cy="1244.6" r="5.6"/>
<circle cx="140.1" cy="1246.6" r="5.6"/>
<circle cx="137.6" cy="1251.1" r="5.6"/>
<circle cx="128.8" cy="1265.8" r="5.6"/>
<circle cx="135.4" cy="1271.9" r="5.6"/>
<circle cx="143.5" cy="1271.9" r="5.6"/>
<circle cx="107.8" cy="1295.6" r="5.6"/>
<circle cx="107.4" cy="1302.6" r="5.6"/>
<circle cx="142.7" cy="1308.3" r="5.6"/>
<circle cx="141.1" cy="1345.1" r="5.6"/>
<circle cx="211.0" cy="1341.6" r="5.6"/>
<circle cx="108.8" cy="1361.5" r="5.6"/>
<circle cx="113.1" cy="1368.6" r="5.6"/>
<circle cx="116.2" cy="1370.7" r="5.6"/>
<circle cx="132.5" cy="1371.7" r="5.6"/>
<circle cx="194.2" cy="1380.5" r="5.6"/>
<circle cx="212.0" cy="1378.2" r="5.6"/>
<circle cx="159.1" cy="1393.1" r="5.6"/>
<circle cx="133.9" cy="1424.2" r="5.6"/>
<circle cx="115.5" cy="1445.9" r="5.6"/>
<circle cx="336.2" cy="1181.6" r="5.6"/>
<circle cx="337.7" cy="1201.3" r="5.6"/>
<circle cx="254.1" cy="1211.8" r="5.6"/>
<circle cx="272.7" cy="1211.1" r="5.6"/>
<circle cx="286.5" cy="1217.0" r="5.6"/>
<circle cx="292.4" cy="1221.0" r="5.6"/>
<circle cx="268.3" cy="1224.3" r="5.6"/>
<circle cx="269.0" cy="1227.6" r="5.6"/>
<circle cx="277.1" cy="1227.6" r="5.6"/>
<circle cx="255.2" cy="1229.7" r="5.6"/>
<circle cx="301.2" cy="1232.4" r="5.6"/>
<circle cx="357.4" cy="1217.0" r="5.6"/>
<circle cx="354.4" cy="1228.6" r="5.6"/>
<circle cx="250.8" cy="1242.9" r="5.6"/>
<circle cx="246.4" cy="1252.1" r="5.6"/>
<circle cx="278.6" cy="1245.5" r="5.6"/>
<circle cx="302.7" cy="1248.4" r="5.6"/>
<circle cx="300.1" cy="1254.9" r="5.6"/>
<circle cx="315.4" cy="1251.6" r="5.6"/>
<circle cx="328.1" cy="1242.9" r="5.6"/>
<circle cx="336.2" cy="1242.4" r="5.6"/>
<circle cx="358.7" cy="1254.3" r="5.6"/>
<circle cx="359.2" cy="1259.3" r="5.6"/>
<circle cx="360.9" cy="1263.0" r="5.6"/>
<circle cx="254.5" cy="1268.1" r="5.6"/>
<circle cx="288.0" cy="1269.6" r="5.6"/>
<circle cx="316.5" cy="1268.7" r="5.6"/>
<circle cx="306.6" cy="1274.6" r="5.6"/>
<circle cx="271.6" cy="1279.7" r="5.6"/>
<circle cx="261.7" cy="1283.4" r="5.6"/>
<circle cx="339.5" cy="1286.2" r="5.6"/>
<circle cx="353.1" cy="1279.0" r="5.6"/>
<circle cx="285.8" cy="1292.1" r="5.6"/>
<circle cx="294.6" cy="1294.3" r="5.6"/>
<circle cx="272.7" cy="1296.5" r="5.6"/>
<circle cx="329.6" cy="1295.0" r="5.6"/>
<circle cx="347.1" cy="1295.0" r="5.6"/>
<circle cx="251.9" cy="1307.5" r="5.6"/>
<circle cx="257.4" cy="1303.1" r="5.6"/>
<circle cx="272.7" cy="1296.6" r="5.6"/>
<circle cx="274.9" cy="1302.0" r="5.6"/>
<circle cx="284.7" cy="1292.6" r="5.6"/>
<circle cx="294.6" cy="1294.4" r="5.6"/>
<circle cx="300.1" cy="1300.9" r="5.6"/>
<circle cx="270.5" cy="1310.8" r="5.6"/>
<circle cx="277.1" cy="1311.9" r="5.6"/>
<circle cx="280.4" cy="1315.2" r="5.6"/>
<circle cx="273.8" cy="1317.4" r="5.6"/>
<circle cx="267.2" cy="1318.5" r="5.6"/>
<circle cx="261.7" cy="1322.8" r="5.6"/>
<circle cx="265.0" cy="1325.0" r="5.6"/>
<circle cx="282.6" cy="1307.5" r="5.6"/>
<circle cx="329.6" cy="1294.4" r="5.6"/>
<circle cx="347.1" cy="1295.5" r="5.6"/>
<circle cx="361.4" cy="1304.2" r="5.6"/>
<circle cx="362.5" cy="1310.8" r="5.6"/>
<circle cx="349.3" cy="1309.7" r="5.6"/>
<circle cx="353.7" cy="1314.1" r="5.6"/>
<circle cx="358.1" cy="1318.5" r="5.6"/>
<circle cx="343.9" cy="1322.8" r="5.6"/>
<circle cx="347.1" cy="1326.1" r="5.6"/>
<circle cx="352.6" cy="1322.8" r="5.6"/>
<circle cx="359.2" cy="1329.4" r="5.6"/>
<circle cx="359.2" cy="1333.8" r="5.6"/>
<circle cx="331.8" cy="1325.0" r="5.6"/>
<circle cx="317.6" cy="1311.9" r="5.6"/>
<circle cx="309.9" cy="1317.4" r="5.6"/>
<circle cx="293.5" cy="1321.7" r="5.6"/>
<circle cx="294.6" cy="1326.1" r="5.6"/>
<circle cx="283.6" cy="1327.2" r="5.6"/>
<circle cx="271.6" cy="1328.3" r="5.6"/>
<circle cx="248.6" cy="1329.4" r="5.6"/>
<circle cx="250.8" cy="1337.1" r="5.6"/>
<circle cx="246.4" cy="1339.3" r="5.6"/>
<circle cx="254.1" cy="1342.6" r="5.6"/>
<circle cx="262.8" cy="1337.1" r="5.6"/>
<circle cx="269.4" cy="1342.6" r="5.6"/>
<circle cx="316.5" cy="1339.3" r="5.6"/>
<circle cx="315.4" cy="1332.7" r="5.6"/>
<circle cx="322.0" cy="1342.6" r="5.6"/>
<circle cx="326.3" cy="1344.7" r="5.6"/>
<circle cx="332.9" cy="1341.5" r="5.6"/>
<circle cx="339.5" cy="1341.5" r="5.6"/>
<circle cx="342.8" cy="1341.5" r="5.6"/>
<circle cx="343.9" cy="1349.1" r="5.6"/>
<circle cx="293.5" cy="1342.6" r="5.6"/>
<circle cx="309.9" cy="1349.1" r="5.6"/>
<circle cx="260.7" cy="1353.5" r="5.6"/>
<circle cx="271.6" cy="1354.6" r="5.6"/>
<circle cx="279.3" cy="1357.9" r="5.6"/>
<circle cx="283.6" cy="1353.5" r="5.6"/>
<circle cx="257.4" cy="1361.2" r="5.6"/>
<circle cx="254.1" cy="1364.4" r="5.6"/>
<circle cx="256.3" cy="1367.7" r="5.6"/>
<circle cx="291.3" cy="1363.4" r="5.6"/>
<circle cx="292.4" cy="1367.7" r="5.6"/>
<circle cx="305.5" cy="1363.4" r="5.6"/>
<circle cx="306.6" cy="1364.4" r="5.6"/>
<circle cx="317.6" cy="1362.3" r="5.6"/>
<circle cx="327.4" cy="1362.3" r="5.6"/>
<circle cx="335.1" cy="1357.9" r="5.6"/>
<circle cx="340.6" cy="1359.0" r="5.6"/>
<circle cx="345.0" cy="1357.9" r="5.6"/>
<circle cx="349.3" cy="1360.1" r="5.6"/>
<circle cx="350.4" cy="1364.4" r="5.6"/>
<circle cx="359.2" cy="1362.3" r="5.6"/>
<circle cx="268.3" cy="1375.4" r="5.6"/>
<circle cx="258.5" cy="1382.0" r="5.6"/>
<circle cx="272.7" cy="1390.7" r="5.6"/>
<circle cx="301.2" cy="1382.0" r="5.6"/>
<circle cx="308.8" cy="1379.8" r="5.6"/>
<circle cx="313.2" cy="1382.0" r="5.6"/>
<circle cx="307.7" cy="1387.4" r="5.6"/>
<circle cx="308.8" cy="1392.9" r="5.6"/>
<circle cx="323.1" cy="1382.0" r="5.6"/>
<circle cx="330.7" cy="1383.1" r="5.6"/>
<circle cx="343.9" cy="1379.8" r="5.6"/>
<circle cx="348.2" cy="1385.2" r="5.6"/>
<circle cx="361.4" cy="1380.9" r="5.6"/>
<circle cx="249.7" cy="1398.4" r="5.6"/>
<circle cx="258.5" cy="1395.1" r="5.6"/>
<circle cx="262.8" cy="1397.3" r="5.6"/>
<circle cx="268.3" cy="1401.7" r="5.6"/>
<circle cx="276.0" cy="1403.9" r="5.6"/>
<circle cx="295.7" cy="1398.4" r="5.6"/>
<circle cx="301.2" cy="1399.5" r="5.6"/>
<circle cx="311.0" cy="1399.5" r="5.6"/>
<circle cx="316.5" cy="1399.5" r="5.6"/>
<circle cx="318.7" cy="1400.6" r="5.6"/>
<circle cx="350.4" cy="1398.4" r="5.6"/>
<circle cx="361.4" cy="1399.5" r="5.6"/>
<circle cx="360.3" cy="1406.0" r="5.6"/>
<circle cx="352.6" cy="1410.4" r="5.6"/>
<circle cx="337.3" cy="1409.3" r="5.6"/>
<circle cx="313.2" cy="1412.6" r="5.6"/>
<circle cx="247.5" cy="1411.5" r="5.6"/>
<circle cx="255.2" cy="1408.2" r="5.6"/>
<circle cx="262.8" cy="1412.6" r="5.6"/>
<circle cx="278.2" cy="1411.5" r="5.6"/>
<circle cx="248.0" cy="1413.8" r="5.6"/>
<circle cx="255.8" cy="1407.6" r="5.6"/>
<circle cx="264.6" cy="1414.9" r="5.6"/>
<circle cx="270.5" cy="1420.3" r="5.6"/>
<circle cx="278.2" cy="1413.3" r="5.6"/>
<circle cx="276.0" cy="1406.1" r="5.6"/>
<circle cx="291.3" cy="1424.3" r="5.6"/>
<circle cx="312.1" cy="1414.9" r="5.6"/>
<circle cx="327.4" cy="1417.0" r="5.6"/>
<circle cx="332.9" cy="1421.4" r="5.6"/>
<circle cx="329.6" cy="1426.9" r="5.6"/>
<circle cx="336.2" cy="1424.7" r="5.6"/>
<circle cx="338.4" cy="1411.6" r="5.6"/>
<circle cx="352.6" cy="1412.7" r="5.6"/>
<circle cx="360.3" cy="1407.2" r="5.6"/>
<circle cx="360.3" cy="1426.9" r="5.6"/>
<circle cx="249.7" cy="1453.6" r="5.6"/>
<circle cx="268.3" cy="1459.3" r="5.6"/>
<circle cx="283.6" cy="1452.1" r="5.6"/>
<circle cx="280.4" cy="1465.9" r="5.6"/>
<circle cx="279.3" cy="1468.5" r="5.6"/>
<circle cx="302.3" cy="1454.3" r="5.6"/>
<circle cx="309.9" cy="1452.1" r="5.6"/>
<circle cx="313.6" cy="1444.9" r="5.6"/>
<circle cx="322.0" cy="1457.6" r="5.6"/>
<circle cx="323.1" cy="1455.4" r="5.6"/>
<circle cx="336.2" cy="1457.6" r="5.6"/>
<circle cx="332.9" cy="1465.9" r="5.6"/>
<circle cx="343.9" cy="1468.1" r="5.6"/>
<circle cx="351.5" cy="1461.5" r="5.6"/>
<circle cx="352.2" cy="1476.2" r="5.6"/>
<circle cx="298.3" cy="1471.8" r="5.6"/>
<circle cx="286.9" cy="1482.1" r="5.6"/>
<circle cx="308.8" cy="1482.1" r="5.6"/>
<circle cx="260.7" cy="1479.0" r="5.6"/>
<circle cx="246.4" cy="1482.1" r="5.6"/>
<circle cx="319.8" cy="1518.9" r="5.6"/>
<circle cx="424.9" cy="1220.5" r="5.6"/>
<circle cx="408.3" cy="1246.8" r="5.6"/>
<circle cx="434.1" cy="1258.2" r="5.6"/>
<circle cx="439.6" cy="1261.5" r="5.6"/>
<circle cx="465.9" cy="1261.5" r="5.6"/>
<circle cx="507.0" cy="1240.7" r="5.6"/>
<circle cx="411.1" cy="1276.8" r="5.6"/>
<circle cx="404.6" cy="1287.8" r="5.6"/>
<circle cx="407.4" cy="1295.0" r="5.6"/>
<circle cx="442.9" cy="1281.2" r="5.6"/>
<circle cx="447.3" cy="1287.8" r="5.6"/>
<circle cx="494.3" cy="1281.9" r="5.6"/>
<circle cx="407.4" cy="1295.5" r="5.6"/>
<circle cx="447.3" cy="1290.4" r="5.6"/>
<circle cx="392.5" cy="1307.1" r="5.6"/>
<circle cx="393.6" cy="1314.1" r="5.6"/>
<circle cx="403.5" cy="1315.2" r="5.6"/>
<circle cx="401.3" cy="1319.6" r="5.6"/>
<circle cx="398.0" cy="1323.9" r="5.6"/>
<circle cx="392.5" cy="1326.1" r="5.6"/>
<circle cx="416.2" cy="1309.3" r="5.6"/>
<circle cx="426.5" cy="1314.5" r="5.6"/>
<circle cx="416.6" cy="1322.8" r="5.6"/>
<circle cx="422.1" cy="1333.8" r="5.6"/>
<circle cx="438.9" cy="1325.5" r="5.6"/>
<circle cx="448.4" cy="1340.4" r="5.6"/>
<circle cx="442.9" cy="1353.5" r="5.6"/>
<circle cx="462.6" cy="1356.8" r="5.6"/>
<circle cx="413.3" cy="1348.7" r="5.6"/>
<circle cx="412.2" cy="1355.7" r="5.6"/>
<circle cx="404.6" cy="1362.3" r="5.6"/>
<circle cx="411.1" cy="1365.5" r="5.6"/>
<circle cx="415.5" cy="1365.5" r="5.6"/>
<circle cx="424.3" cy="1377.6" r="5.6"/>
<circle cx="427.6" cy="1379.8" r="5.6"/>
<circle cx="452.7" cy="1379.8" r="5.6"/>
<circle cx="458.2" cy="1379.8" r="5.6"/>
<circle cx="471.3" cy="1332.7" r="5.6"/>
<circle cx="474.6" cy="1329.4" r="5.6"/>
<circle cx="484.5" cy="1331.6" r="5.6"/>
<circle cx="487.8" cy="1332.7" r="5.6"/>
<circle cx="493.2" cy="1317.4" r="5.6"/>
<circle cx="507.5" cy="1317.4" r="5.6"/>
<circle cx="508.1" cy="1325.0" r="5.6"/>
<circle cx="499.8" cy="1337.1" r="5.6"/>
<circle cx="496.5" cy="1343.6" r="5.6"/>
<circle cx="484.5" cy="1351.3" r="5.6"/>
<circle cx="490.0" cy="1360.1" r="5.6"/>
<circle cx="494.3" cy="1359.0" r="5.6"/>
<circle cx="487.8" cy="1365.5" r="5.6"/>
<circle cx="475.7" cy="1368.8" r="5.6"/>
<circle cx="477.9" cy="1368.8" r="5.6"/>
<circle cx="503.1" cy="1368.8" r="5.6"/>
<circle cx="485.6" cy="1378.7" r="5.6"/>
<circle cx="491.0" cy="1384.2" r="5.6"/>
<circle cx="394.7" cy="1392.9" r="5.6"/>
<circle cx="400.2" cy="1392.9" r="5.6"/>
<circle cx="414.4" cy="1392.9" r="5.6"/>
<circle cx="415.5" cy="1395.1" r="5.6"/>
<circle cx="391.4" cy="1400.6" r="5.6"/>
<circle cx="403.5" cy="1402.8" r="5.6"/>
<circle cx="408.9" cy="1400.6" r="5.6"/>
<circle cx="405.7" cy="1409.3" r="5.6"/>
<circle cx="434.1" cy="1392.9" r="5.6"/>
<circle cx="445.1" cy="1397.3" r="5.6"/>
<circle cx="453.8" cy="1405.0" r="5.6"/>
<circle cx="463.7" cy="1399.5" r="5.6"/>
<circle cx="464.8" cy="1391.8" r="5.6"/>
<circle cx="440.7" cy="1408.2" r="5.6"/>
<circle cx="444.0" cy="1408.2" r="5.6"/>
<circle cx="480.1" cy="1403.9" r="5.6"/>
<circle cx="479.0" cy="1411.5" r="5.6"/>
<circle cx="506.4" cy="1392.9" r="5.6"/>
<circle cx="508.1" cy="1405.0" r="5.6"/>
<circle cx="422.1" cy="1411.5" r="5.6"/>
<circle cx="462.6" cy="1411.5" r="5.6"/>
<circle cx="405.7" cy="1407.2" r="5.6"/>
<circle cx="407.8" cy="1413.8" r="5.6"/>
<circle cx="407.8" cy="1420.3" r="5.6"/>
<circle cx="398.0" cy="1422.5" r="5.6"/>
<circle cx="403.5" cy="1426.9" r="5.6"/>
<circle cx="422.1" cy="1413.8" r="5.6"/>
<circle cx="442.9" cy="1409.4" r="5.6"/>
<circle cx="454.9" cy="1406.1" r="5.6"/>
<circle cx="463.7" cy="1412.7" r="5.6"/>
<circle cx="464.8" cy="1420.3" r="5.6"/>
<circle cx="462.6" cy="1426.9" r="5.6"/>
<circle cx="480.1" cy="1407.2" r="5.6"/>
<circle cx="481.2" cy="1413.8" r="5.6"/>
<circle cx="481.2" cy="1420.3" r="5.6"/>
<circle cx="498.7" cy="1423.6" r="5.6"/>
<circle cx="505.3" cy="1420.3" r="5.6"/>
<circle cx="507.5" cy="1406.1" r="5.6"/>
<circle cx="506.4" cy="1437.4" r="5.6"/>
<circle cx="398.0" cy="1440.0" r="5.6"/>
<circle cx="403.5" cy="1443.3" r="5.6"/>
<circle cx="407.8" cy="1439.6" r="5.6"/>
<circle cx="429.3" cy="1436.7" r="5.6"/>
<circle cx="441.8" cy="1433.0" r="5.6"/>
<circle cx="427.6" cy="1449.9" r="5.6"/>
<circle cx="451.6" cy="1447.7" r="5.6"/>
<circle cx="503.1" cy="1453.6" r="5.6"/>
<circle cx="499.8" cy="1466.3" r="5.6"/>
<circle cx="483.4" cy="1464.1" r="5.6"/>
<circle cx="399.1" cy="1467.4" r="5.6"/>
<circle cx="394.3" cy="1476.2" r="5.6"/>
<circle cx="421.0" cy="1466.7" r="5.6"/>
<circle cx="416.6" cy="1479.9" r="5.6"/>
<circle cx="414.0" cy="1485.6" r="5.6"/>
<circle cx="458.2" cy="1481.2" r="5.6"/>
<circle cx="476.8" cy="1483.8" r="5.6"/>
<circle cx="484.5" cy="1489.3" r="5.6"/>
<circle cx="466.5" cy="1495.2" r="5.6"/>
<circle cx="414.0" cy="1501.8" r="5.6"/>
<circle cx="430.2" cy="1507.5" r="5.6"/>
<circle cx="484.5" cy="1504.6" r="5.6"/>
<circle cx="591.8" cy="1167.2" r="5.6"/>
<circle cx="550.8" cy="1176.4" r="5.6"/>
<circle cx="626.0" cy="1184.1" r="5.6"/>
<circle cx="651.3" cy="1185.3" r="5.6"/>
<circle cx="653.7" cy="1188.9" r="5.6"/>
<circle cx="607.9" cy="1192.5" r="5.6"/>
<circle cx="599.5" cy="1198.5" r="5.6"/>
<circle cx="610.3" cy="1196.1" r="5.6"/>
<circle cx="616.3" cy="1197.3" r="5.6"/>
<circle cx="622.4" cy="1196.1" r="5.6"/>
<circle cx="623.6" cy="1190.1" r="5.6"/>
<circle cx="554.9" cy="1200.9" r="5.6"/>
<circle cx="555.6" cy="1208.2" r="5.6"/>
<circle cx="567.0" cy="1208.2" r="5.6"/>
<circle cx="583.8" cy="1207.7" r="5.6"/>
<circle cx="585.0" cy="1217.8" r="5.6"/>
<circle cx="593.5" cy="1223.8" r="5.6"/>
<circle cx="606.7" cy="1221.4" r="5.6"/>
<circle cx="609.1" cy="1213.0" r="5.6"/>
<circle cx="607.9" cy="1211.8" r="5.6"/>
<circle cx="641.6" cy="1217.8" r="5.6"/>
<circle cx="650.1" cy="1217.8" r="5.6"/>
<circle cx="653.7" cy="1223.1" r="5.6"/>
<circle cx="539.3" cy="1226.2" r="5.6"/>
<circle cx="544.1" cy="1240.7" r="5.6"/>
<circle cx="553.7" cy="1247.9" r="5.6"/>
<circle cx="573.0" cy="1239.5" r="5.6"/>
<circle cx="600.7" cy="1239.5" r="5.6"/>
<circle cx="601.9" cy="1240.7" r="5.6"/>
<circle cx="621.2" cy="1235.1" r="5.6"/>
<circle cx="624.0" cy="1248.6" r="5.6"/>
<circle cx="640.4" cy="1241.9" r="5.6"/>
<circle cx="644.0" cy="1247.9" r="5.6"/>
<circle cx="573.0" cy="1253.9" r="5.6"/>
<circle cx="575.4" cy="1261.2" r="5.6"/>
<circle cx="599.5" cy="1258.7" r="5.6"/>
<circle cx="601.9" cy="1260.0" r="5.6"/>
<circle cx="559.7" cy="1266.0" r="5.6"/>
<circle cx="551.3" cy="1270.8" r="5.6"/>
<circle cx="553.7" cy="1278.0" r="5.6"/>
<circle cx="548.9" cy="1285.2" r="5.6"/>
<circle cx="538.1" cy="1290.1" r="5.6"/>
<circle cx="544.1" cy="1290.1" r="5.6"/>
<circle cx="558.5" cy="1290.1" r="5.6"/>
<circle cx="560.9" cy="1291.3" r="5.6"/>
<circle cx="570.6" cy="1273.2" r="5.6"/>
<circle cx="575.4" cy="1274.4" r="5.6"/>
<circle cx="577.8" cy="1286.4" r="5.6"/>
<circle cx="576.6" cy="1291.3" r="5.6"/>
<circle cx="589.8" cy="1278.0" r="5.6"/>
<circle cx="592.3" cy="1269.6" r="5.6"/>
<circle cx="594.7" cy="1270.8" r="5.6"/>
<circle cx="600.7" cy="1272.0" r="5.6"/>
<circle cx="615.1" cy="1266.0" r="5.6"/>
<circle cx="617.5" cy="1267.2" r="5.6"/>
<circle cx="621.2" cy="1266.0" r="5.6"/>
<circle cx="613.9" cy="1273.2" r="5.6"/>
<circle cx="627.2" cy="1272.0" r="5.6"/>
<circle cx="635.6" cy="1273.2" r="5.6"/>
<circle cx="639.2" cy="1274.4" r="5.6"/>
<circle cx="646.4" cy="1263.6" r="5.6"/>
<circle cx="650.1" cy="1261.2" r="5.6"/>
<circle cx="652.5" cy="1272.0" r="5.6"/>
<circle cx="612.7" cy="1282.8" r="5.6"/>
<circle cx="618.7" cy="1282.8" r="5.6"/>
<circle cx="626.0" cy="1285.2" r="5.6"/>
<circle cx="629.6" cy="1284.0" r="5.6"/>
<circle cx="633.2" cy="1290.1" r="5.6"/>
<circle cx="640.4" cy="1287.6" r="5.6"/>
<circle cx="647.6" cy="1279.2" r="5.6"/>
<circle cx="650.1" cy="1291.3" r="5.6"/>
<circle cx="645.2" cy="1293.7" r="5.6"/>
<circle cx="587.4" cy="1290.1" r="5.6"/>
<circle cx="542.9" cy="1422.4" r="5.6"/>
<circle cx="553.7" cy="1424.8" r="5.6"/>
<circle cx="564.6" cy="1421.2" r="5.6"/>
<circle cx="574.2" cy="1428.4" r="5.6"/>
<circle cx="582.6" cy="1430.8" r="5.6"/>
<circle cx="594.7" cy="1423.6" r="5.6"/>
<circle cx="595.9" cy="1432.0" r="5.6"/>
<circle cx="594.7" cy="1438.1" r="5.6"/>
<circle cx="609.1" cy="1424.8" r="5.6"/>
<circle cx="624.8" cy="1428.4" r="5.6"/>
<circle cx="626.0" cy="1438.1" r="5.6"/>
<circle cx="630.8" cy="1436.9" r="5.6"/>
<circle cx="645.2" cy="1423.6" r="5.6"/>
<circle cx="650.1" cy="1434.5" r="5.6"/>
<circle cx="640.4" cy="1440.5" r="5.6"/>
<circle cx="604.3" cy="1438.1" r="5.6"/>
<circle cx="616.3" cy="1439.3" r="5.6"/>
<circle cx="541.2" cy="1441.7" r="5.6"/>
<circle cx="550.1" cy="1442.9" r="5.6"/>
<circle cx="553.7" cy="1445.3" r="5.6"/>
<circle cx="571.8" cy="1441.7" r="5.6"/>
<circle cx="571.8" cy="1444.1" r="5.6"/>
<circle cx="587.4" cy="1442.9" r="5.6"/>
<circle cx="597.1" cy="1444.1" r="5.6"/>
<circle cx="609.1" cy="1446.5" r="5.6"/>
<circle cx="606.7" cy="1448.9" r="5.6"/>
<circle cx="548.9" cy="1456.1" r="5.6"/>
<circle cx="559.7" cy="1456.1" r="5.6"/>
<circle cx="571.8" cy="1457.3" r="5.6"/>
<circle cx="579.0" cy="1452.5" r="5.6"/>
<circle cx="589.8" cy="1452.5" r="5.6"/>
<circle cx="603.1" cy="1454.9" r="5.6"/>
<circle cx="601.9" cy="1463.4" r="5.6"/>
<circle cx="610.3" cy="1465.8" r="5.6"/>
<circle cx="613.9" cy="1462.1" r="5.6"/>
<circle cx="622.4" cy="1460.9" r="5.6"/>
<circle cx="629.6" cy="1453.7" r="5.6"/>
<circle cx="635.6" cy="1452.5" r="5.6"/>
<circle cx="540.5" cy="1463.4" r="5.6"/>
<circle cx="545.3" cy="1471.8" r="5.6"/>
<circle cx="553.7" cy="1465.8" r="5.6"/>
<circle cx="560.9" cy="1469.4" r="5.6"/>
<circle cx="567.0" cy="1475.4" r="5.6"/>
<circle cx="569.4" cy="1479.0" r="5.6"/>
<circle cx="629.6" cy="1467.0" r="5.6"/>
<circle cx="627.2" cy="1477.8" r="5.6"/>
<circle cx="634.4" cy="1474.2" r="5.6"/>
<circle cx="628.4" cy="1486.2" r="5.6"/>
<circle cx="627.2" cy="1492.3" r="5.6"/>
<circle cx="618.7" cy="1499.5" r="5.6"/>
<circle cx="644.0" cy="1485.0" r="5.6"/>
<circle cx="648.9" cy="1501.9" r="5.6"/>
<circle cx="651.3" cy="1503.1" r="5.6"/>
<circle cx="589.8" cy="1485.0" r="5.6"/>
<circle cx="542.9" cy="1491.1" r="5.6"/>
<circle cx="559.7" cy="1497.1" r="5.6"/>
<circle cx="557.3" cy="1506.7" r="5.6"/>
<circle cx="538.8" cy="1509.1" r="5.6"/>
<circle cx="595.9" cy="1509.6" r="5.6"/>
<circle cx="604.3" cy="1507.2" r="5.6"/>
<circle cx="558.5" cy="1554.4" r="5.6"/>
<circle cx="546.0" cy="1284.9" r="5.6"/>
<circle cx="544.4" cy="1298.2" r="5.6"/>
<circle cx="537.2" cy="1309.1" r="5.6"/>
<circle cx="542.0" cy="1322.0" r="5.6"/>
<circle cx="538.0" cy="1331.7" r="5.6"/>
<circle cx="539.0" cy="1351.6" r="5.6"/>
<circle cx="535.3" cy="1360.1" r="5.6"/>
<circle cx="542.4" cy="1366.8" r="5.6"/>
<circle cx="538.6" cy="1388.9" r="5.6"/>
<circle cx="559.3" cy="1293.1" r="5.6"/>
<circle cx="549.3" cy="1304.0" r="5.6"/>
<circle cx="552.7" cy="1308.8" r="5.6"/>
<circle cx="553.1" cy="1329.6" r="5.6"/>
<circle cx="557.9" cy="1335.2" r="5.6"/>
<circle cx="548.0" cy="1353.2" r="5.6"/>
<circle cx="559.2" cy="1360.4" r="5.6"/>
<circle cx="549.9" cy="1372.7" r="5.6"/>
<circle cx="555.7" cy="1383.8" r="5.6"/>
<circle cx="563.7" cy="1285.9" r="5.6"/>
<circle cx="563.0" cy="1295.5" r="5.6"/>
<circle cx="562.5" cy="1318.1" r="5.6"/>
<circle cx="559.5" cy="1327.3" r="5.6"/>
<circle cx="569.0" cy="1335.4" r="5.6"/>
<circle cx="566.7" cy="1345.1" r="5.6"/>
<circle cx="567.6" cy="1362.7" r="5.6"/>
<circle cx="568.4" cy="1372.1" r="5.6"/>
<circle cx="571.2" cy="1388.4" r="5.6"/>
<circle cx="578.6" cy="1291.1" r="5.6"/>
<circle cx="575.0" cy="1306.1" r="5.6"/>
<circle cx="579.5" cy="1317.4" r="5.6"/>
<circle cx="575.1" cy="1330.3" r="5.6"/>
<circle cx="572.9" cy="1336.9" r="5.6"/>
<circle cx="572.9" cy="1344.7" r="5.6"/>
<circle cx="580.9" cy="1355.1" r="5.6"/>
<circle cx="576.3" cy="1368.5" r="5.6"/>
<circle cx="582.0" cy="1379.1" r="5.6"/>
<circle cx="587.9" cy="1293.2" r="5.6"/>
<circle cx="592.2" cy="1303.3" r="5.6"/>
<circle cx="595.9" cy="1307.1" r="5.6"/>
<circle cx="591.9" cy="1327.5" r="5.6"/>
<circle cx="592.9" cy="1339.0" r="5.6"/>
<circle cx="584.7" cy="1343.4" r="5.6"/>
<circle cx="593.2" cy="1361.6" r="5.6"/>
<circle cx="587.0" cy="1366.3" r="5.6"/>
<circle cx="590.3" cy="1379.2" r="5.6"/>
<circle cx="605.1" cy="1287.1" r="5.6"/>
<circle cx="605.9" cy="1296.0" r="5.6"/>
<circle cx="602.0" cy="1308.0" r="5.6"/>
<circle cx="605.5" cy="1325.3" r="5.6"/>
<circle cx="598.9" cy="1342.0" r="5.6"/>
<circle cx="604.3" cy="1346.4" r="5.6"/>
<circle cx="606.4" cy="1358.9" r="5.6"/>
<circle cx="607.5" cy="1369.8" r="5.6"/>
<circle cx="608.0" cy="1378.9" r="5.6"/>
<circle cx="617.2" cy="1286.5" r="5.6"/>
<circle cx="613.4" cy="1302.5" r="5.6"/>
<circle cx="608.8" cy="1309.4" r="5.6"/>
<circle cx="609.5" cy="1327.5" r="5.6"/>
<circle cx="610.9" cy="1336.5" r="5.6"/>
<circle cx="612.2" cy="1345.3" r="5.6"/>
<circle cx="619.6" cy="1360.4" r="5.6"/>
<circle cx="616.1" cy="1374.6" r="5.6"/>
<circle cx="618.2" cy="1381.2" r="5.6"/>
<circle cx="621.4" cy="1288.6" r="5.6"/>
<circle cx="622.5" cy="1295.1" r="5.6"/>
<circle cx="631.6" cy="1314.2" r="5.6"/>
<circle cx="625.5" cy="1320.3" r="5.6"/>
<circle cx="629.7" cy="1336.9" r="5.6"/>
<circle cx="622.5" cy="1354.1" r="5.6"/>
<circle cx="632.0" cy="1365.4" r="5.6"/>
<circle cx="630.5" cy="1372.5" r="5.6"/>
<circle cx="624.1" cy="1385.9" r="5.6"/>
<circle cx="634.4" cy="1290.3" r="5.6"/>
<circle cx="633.4" cy="1295.1" r="5.6"/>
<circle cx="641.3" cy="1310.9" r="5.6"/>
<circle cx="641.1" cy="1327.9" r="5.6"/>
<circle cx="642.8" cy="1337.9" r="5.6"/>
<circle cx="642.9" cy="1350.3" r="5.6"/>
<circle cx="643.9" cy="1365.0" r="5.6"/>
<circle cx="633.1" cy="1369.4" r="5.6"/>
<circle cx="637.3" cy="1381.1" r="5.6"/>
<circle cx="647.0" cy="1293.4" r="5.6"/>
<circle cx="645.1" cy="1297.1" r="5.6"/>
<circle cx="654.1" cy="1309.4" r="5.6"/>
<circle cx="648.0" cy="1330.2" r="5.6"/>
<circle cx="654.1" cy="1335.9" r="5.6"/>
<circle cx="646.5" cy="1345.6" r="5.6"/>
<circle cx="656.8" cy="1363.7" r="5.6"/>
<circle cx="645.7" cy="1374.6" r="5.6"/>
<circle cx="649.4" cy="1386.7" r="5.6"/>
<circle cx="538.6" cy="1284.5" r="5.6"/>
<circle cx="535.2" cy="1298.4" r="5.6"/>
<circle cx="545.5" cy="1317.4" r="5.6"/>
<circle cx="543.3" cy="1327.6" r="5.6"/>
<circle cx="537.4" cy="1334.8" r="5.6"/>
<circle cx="546.0" cy="1354.2" r="5.6"/>
<circle cx="540.4" cy="1363.6" r="5.6"/>
<circle cx="546.4" cy="1378.1" r="5.6"/>
<circle cx="538.6" cy="1385.9" r="5.6"/>
<circle cx="552.0" cy="1288.5" r="5.6"/>
<circle cx="552.8" cy="1298.2" r="5.6"/>
<circle cx="547.4" cy="1315.9" r="5.6"/>
<circle cx="555.7" cy="1328.7" r="5.6"/>
<circle cx="549.1" cy="1333.4" r="5.6"/>
<circle cx="554.5" cy="1353.6" r="5.6"/>
<circle cx="553.0" cy="1356.7" r="5.6"/>
<circle cx="554.5" cy="1377.6" r="5.6"/>
<circle cx="557.8" cy="1388.8" r="5.6"/>
<circle cx="564.4" cy="1286.1" r="5.6"/>
<circle cx="570.0" cy="1304.3" r="5.6"/>
<circle cx="569.8" cy="1311.4" r="5.6"/>
<circle cx="562.9" cy="1321.5" r="5.6"/>
<circle cx="570.0" cy="1341.5" r="5.6"/>
<circle cx="563.9" cy="1352.8" r="5.6"/>
<circle cx="564.1" cy="1359.7" r="5.6"/>
<circle cx="566.3" cy="1368.9" r="5.6"/>
<circle cx="562.7" cy="1381.3" r="5.6"/>
<circle cx="574.8" cy="1289.1" r="5.6"/>
<circle cx="572.8" cy="1304.2" r="5.6"/>
<circle cx="573.7" cy="1312.1" r="5.6"/>
<circle cx="579.4" cy="1320.3" r="5.6"/>
<circle cx="576.6" cy="1337.3" r="5.6"/>
<circle cx="578.3" cy="1353.1" r="5.6"/>
<circle cx="581.2" cy="1355.8" r="5.6"/>
<circle cx="581.8" cy="1372.8" r="5.6"/>
<circle cx="579.9" cy="1380.0" r="5.6"/>
<circle cx="589.6" cy="1291.3" r="5.6"/>
<circle cx="593.5" cy="1304.5" r="5.6"/>
<circle cx="586.4" cy="1316.7" r="5.6"/>
<circle cx="590.7" cy="1326.6" r="5.6"/>
<circle cx="594.2" cy="1335.4" r="5.6"/>
<circle cx="595.0" cy="1352.9" r="5.6"/>
<circle cx="593.7" cy="1358.9" r="5.6"/>
<circle cx="590.2" cy="1368.3" r="5.6"/>
<circle cx="593.1" cy="1388.7" r="5.6"/>
<circle cx="598.0" cy="1291.9" r="5.6"/>
<circle cx="604.5" cy="1295.3" r="5.6"/>
<circle cx="607.2" cy="1312.5" r="5.6"/>
<circle cx="599.3" cy="1319.0" r="5.6"/>
<circle cx="605.5" cy="1334.6" r="5.6"/>
<circle cx="602.3" cy="1344.8" r="5.6"/>
<circle cx="603.4" cy="1359.1" r="5.6"/>
<circle cx="605.8" cy="1374.1" r="5.6"/>
<circle cx="604.8" cy="1381.1" r="5.6"/>
<circle cx="609.0" cy="1293.5" r="5.6"/>
<circle cx="619.6" cy="1302.5" r="5.6"/>
<circle cx="619.4" cy="1315.2" r="5.6"/>
<circle cx="615.6" cy="1323.6" r="5.6"/>
<circle cx="612.5" cy="1336.4" r="5.6"/>
<circle cx="610.9" cy="1347.5" r="5.6"/>
<circle cx="614.4" cy="1354.7" r="5.6"/>
<circle cx="613.0" cy="1369.6" r="5.6"/>
<circle cx="615.9" cy="1387.8" r="5.6"/>
<circle cx="627.9" cy="1290.9" r="5.6"/>
<circle cx="627.9" cy="1297.9" r="5.6"/>
<circle cx="625.0" cy="1316.8" r="5.6"/>
<circle cx="631.9" cy="1320.8" r="5.6"/>
<circle cx="620.5" cy="1342.0" r="5.6"/>
<circle cx="630.9" cy="1349.7" r="5.6"/>
<circle cx="630.4" cy="1361.4" r="5.6"/>
<circle cx="631.4" cy="1369.1" r="5.6"/>
<circle cx="625.8" cy="1386.1" r="5.6"/>
<circle cx="635.2" cy="1291.5" r="5.6"/>
<circle cx="635.8" cy="1303.3" r="5.6"/>
<circle cx="642.4" cy="1311.8" r="5.6"/>
<circle cx="644.7" cy="1326.2" r="5.6"/>
<circle cx="641.8" cy="1330.8" r="5.6"/>
<circle cx="634.0" cy="1350.9" r="5.6"/>
<circle cx="644.1" cy="1361.8" r="5.6"/>
<circle cx="643.7" cy="1366.9" r="5.6"/>
<circle cx="643.5" cy="1388.5" r="5.6"/>
<circle cx="652.5" cy="1288.1" r="5.6"/>
<circle cx="653.4" cy="1297.8" r="5.6"/>
<circle cx="652.9" cy="1315.0" r="5.6"/>
<circle cx="651.4" cy="1321.8" r="5.6"/>
<circle cx="644.8" cy="1332.9" r="5.6"/>
<circle cx="655.0" cy="1345.0" r="5.6"/>
<circle cx="645.7" cy="1357.3" r="5.6"/>
<circle cx="651.1" cy="1373.2" r="5.6"/>
<circle cx="655.5" cy="1388.3" r="5.6"/>
<circle cx="548.1" cy="1401.2" r="5.6"/>
<circle cx="541.1" cy="1404.5" r="5.6"/>
<circle cx="548.0" cy="1418.2" r="5.6"/>
<circle cx="557.0" cy="1393.3" r="5.6"/>
<circle cx="559.6" cy="1405.2" r="5.6"/>
<circle cx="554.3" cy="1418.1" r="5.6"/>
<circle cx="573.8" cy="1397.8" r="5.6"/>
<circle cx="570.7" cy="1406.7" r="5.6"/>
<circle cx="564.5" cy="1426.2" r="5.6"/>
<circle cx="586.0" cy="1399.3" r="5.6"/>
<circle cx="589.2" cy="1409.8" r="5.6"/>
<circle cx="578.1" cy="1423.1" r="5.6"/>
<circle cx="593.1" cy="1396.5" r="5.6"/>
<circle cx="595.4" cy="1409.8" r="5.6"/>
<circle cx="601.7" cy="1425.6" r="5.6"/>
<circle cx="608.4" cy="1400.4" r="5.6"/>
<circle cx="614.4" cy="1412.5" r="5.6"/>
<circle cx="610.3" cy="1426.7" r="5.6"/>
<circle cx="623.0" cy="1391.3" r="5.6"/>
<circle cx="620.0" cy="1411.0" r="5.6"/>
<circle cx="621.5" cy="1420.7" r="5.6"/>
<circle cx="635.3" cy="1392.4" r="5.6"/>
<circle cx="631.2" cy="1403.3" r="5.6"/>
<circle cx="639.0" cy="1419.4" r="5.6"/>
<circle cx="649.6" cy="1401.8" r="5.6"/>
<circle cx="651.9" cy="1412.9" r="5.6"/>
<circle cx="653.8" cy="1427.4" r="5.6"/>
<circle cx="536.4" cy="1290.8" r="5.6"/>
<circle cx="554.3" cy="1307.0" r="5.6"/>
<circle cx="554.3" cy="1317.8" r="5.6"/>
<circle cx="536.2" cy="1343.4" r="5.6"/>
<circle cx="543.4" cy="1352.6" r="5.6"/>
<circle cx="554.0" cy="1363.3" r="5.6"/>
<circle cx="554.7" cy="1380.9" r="5.6"/>
<circle cx="560.4" cy="1288.5" r="5.6"/>
<circle cx="565.9" cy="1307.0" r="5.6"/>
<circle cx="573.4" cy="1315.8" r="5.6"/>
<circle cx="556.2" cy="1332.3" r="5.6"/>
<circle cx="567.6" cy="1356.7" r="5.6"/>
<circle cx="565.1" cy="1369.2" r="5.6"/>
<circle cx="568.4" cy="1375.3" r="5.6"/>
<circle cx="580.7" cy="1300.0" r="5.6"/>
<circle cx="582.4" cy="1314.2" r="5.6"/>
<circle cx="585.7" cy="1318.3" r="5.6"/>
<circle cx="575.7" cy="1333.3" r="5.6"/>
<circle cx="582.2" cy="1351.6" r="5.6"/>
<circle cx="584.8" cy="1368.2" r="5.6"/>
<circle cx="585.3" cy="1375.5" r="5.6"/>
<circle cx="601.4" cy="1299.4" r="5.6"/>
<circle cx="596.6" cy="1311.0" r="5.6"/>
<circle cx="605.7" cy="1325.6" r="5.6"/>
<circle cx="602.8" cy="1335.6" r="5.6"/>
<circle cx="606.5" cy="1358.6" r="5.6"/>
<circle cx="602.7" cy="1361.3" r="5.6"/>
<circle cx="596.8" cy="1388.2" r="5.6"/>
<circle cx="622.7" cy="1286.8" r="5.6"/>
<circle cx="628.5" cy="1312.7" r="5.6"/>
<circle cx="628.5" cy="1317.3" r="5.6"/>
<circle cx="624.6" cy="1334.0" r="5.6"/>
<circle cx="616.7" cy="1359.5" r="5.6"/>
<circle cx="625.7" cy="1362.0" r="5.6"/>
<circle cx="634.3" cy="1389.8" r="5.6"/>
<circle cx="653.3" cy="1288.8" r="5.6"/>
<circle cx="640.5" cy="1307.9" r="5.6"/>
<circle cx="648.5" cy="1328.2" r="5.6"/>
<circle cx="656.3" cy="1343.7" r="5.6"/>
<circle cx="643.6" cy="1353.8" r="5.6"/>
<circle cx="639.2" cy="1367.8" r="5.6"/>
<circle cx="638.1" cy="1376.7" r="5.6"/>
<circle cx="540.4" cy="1306.0" r="5.6"/>
<circle cx="544.0" cy="1334.1" r="5.6"/>
<circle cx="539.5" cy="1342.2" r="5.6"/>
<circle cx="550.8" cy="1373.5" r="5.6"/>
<circle cx="551.9" cy="1394.4" r="5.6"/>
<circle cx="550.9" cy="1411.1" r="5.6"/>
<circle cx="572.0" cy="1301.6" r="5.6"/>
<circle cx="561.6" cy="1334.8" r="5.6"/>
<circle cx="561.3" cy="1350.6" r="5.6"/>
<circle cx="562.6" cy="1368.6" r="5.6"/>
<circle cx="573.8" cy="1393.2" r="5.6"/>
<circle cx="566.2" cy="1405.5" r="5.6"/>
<circle cx="592.7" cy="1313.1" r="5.6"/>
<circle cx="585.6" cy="1337.4" r="5.6"/>
<circle cx="590.5" cy="1359.6" r="5.6"/>
<circle cx="590.0" cy="1378.0" r="5.6"/>
<circle cx="587.7" cy="1394.2" r="5.6"/>
<circle cx="593.4" cy="1401.8" r="5.6"/>
<circle cx="605.7" cy="1312.1" r="5.6"/>
<circle cx="597.6" cy="1335.8" r="5.6"/>
<circle cx="610.5" cy="1358.7" r="5.6"/>
<circle cx="603.8" cy="1369.4" r="5.6"/>
<circle cx="614.3" cy="1388.2" r="5.6"/>
<circle cx="612.8" cy="1408.4" r="5.6"/>
<circle cx="622.6" cy="1305.5" r="5.6"/>
<circle cx="620.2" cy="1328.6" r="5.6"/>
<circle cx="619.2" cy="1356.6" r="5.6"/>
<circle cx="635.0" cy="1361.9" r="5.6"/>
<circle cx="617.1" cy="1380.1" r="5.6"/>
<circle cx="634.2" cy="1401.5" r="5.6"/>
<circle cx="648.8" cy="1306.1" r="5.6"/>
<circle cx="639.4" cy="1324.9" r="5.6"/>
<circle cx="648.9" cy="1340.4" r="5.6"/>
<circle cx="652.4" cy="1371.4" r="5.6"/>
<circle cx="640.1" cy="1384.2" r="5.6"/>
<circle cx="648.3" cy="1412.6" r="5.6"/>
</g>
<line x1="158.5" y1="1272.8" x2="158.5" y2="1358.3" stroke="#000" stroke-width="3"/>
<line x1="144.0" y1="1272.8" x2="173.0" y2="1272.8" stroke="#000" stroke-width="3"/>
<line x1="144.0" y1="1358.3" x2="173.0" y2="1358.3" stroke="#000" stroke-width="3"/>
<circle cx="158.5" cy="1315.8000000000002" r="3.95" fill="none" stroke="#000" stroke-width="2"/>
<line x1="304.2" y1="1309.4" x2="304.2" y2="1345.9" stroke="#000" stroke-width="3"/>
<line x1="289.7" y1="1309.4" x2="318.7" y2="1309.4" stroke="#000" stroke-width="3"/>
<line x1="289.7" y1="1345.9" x2="318.7" y2="1345.9" stroke="#000" stroke-width="3"/>
<circle cx="304.2" cy="1327.9" r="3.95" fill="none" stroke="#000" stroke-width="2"/>
<line x1="450.2" y1="1345.6" x2="450.2" y2="1388.4" stroke="#000" stroke-width="3"/>
<line x1="435.7" y1="1345.6" x2="464.7" y2="1345.6" stroke="#000" stroke-width="3"/>
<line x1="435.7" y1="1388.4" x2="464.7" y2="1388.4" stroke="#000" stroke-width="3"/>
<circle cx="450.2" cy="1367.3000000000002" r="3.95" fill="none" stroke="#000" stroke-width="2"/>
<line x1="596" y1="1297.7" x2="596" y2="1336.6" stroke="#000" stroke-width="3"/>
<line x1="581.5" y1="1297.7" x2="610.5" y2="1297.7" stroke="#000" stroke-width="3"/>
<line x1="581.5" y1="1336.6" x2="610.5" y2="1336.6" stroke="#000" stroke-width="3"/>
<circle cx="596" cy="1317.1000000000001" r="3.95" fill="none" stroke="#000" stroke-width="2"/>
<path d="M304.5,1289 L304.5,1277.6 L450.2,1277.6 L450.2,1289" fill="none" stroke="#000" stroke-width="2.7"/>
<path d="M450.2,1253.8 L450.2,1243.3 L595.9,1243.3 L595.9,1253.8" fill="none" stroke="#000" stroke-width="2.7"/>
<text x="377.3" y="1279" font-size="27" fill="#000" text-anchor="middle">*</text>
<text x="522.9" y="1245" font-size="27" fill="#000" text-anchor="middle">*</text>
<line x1="63.3" y1="1543.4" x2="71.3" y2="1543.4" stroke="#333" stroke-width="3"/>
<line x1="63.3" y1="1427.8" x2="71.3" y2="1427.8" stroke="#333" stroke-width="3"/>
<line x1="63.3" y1="1312.2" x2="71.3" y2="1312.2" stroke="#333" stroke-width="3"/>
<line x1="63.3" y1="1196.6" x2="71.3" y2="1196.6" stroke="#333" stroke-width="3"/>
<line x1="158.5" y1="1574.4" x2="158.5" y2="1582.7" stroke="#333" stroke-width="3"/>
<line x1="304.2" y1="1574.4" x2="304.2" y2="1582.7" stroke="#333" stroke-width="3"/>
<line x1="450.0" y1="1574.4" x2="450.0" y2="1582.7" stroke="#333" stroke-width="3"/>
<line x1="595.6" y1="1574.4" x2="595.6" y2="1582.7" stroke="#333" stroke-width="3"/>
<line x1="71.3" y1="1148.1" x2="71.3" y2="1574.4" stroke="#000" stroke-width="3"/>
<line x1="71.1" y1="1574.4" x2="683.4" y2="1574.4" stroke="#000" stroke-width="3"/>
<text x="56.3" y="1553.0" font-size="26.4" fill="#4D4D4D" text-anchor="end">3</text>
<text x="56.3" y="1437.4" font-size="26.4" fill="#4D4D4D" text-anchor="end">4</text>
<text x="56.3" y="1321.8" font-size="26.4" fill="#4D4D4D" text-anchor="end">5</text>
<text x="56.3" y="1206.2" font-size="26.4" fill="#4D4D4D" text-anchor="end">6</text>
<text x="158.5" y="1608.1" font-size="26.4" fill="#4D4D4D" text-anchor="middle">Bombina</text>
<text x="304.2" y="1608.1" font-size="26.4" fill="#4D4D4D" text-anchor="middle">frogs</text>
<text x="450.0" y="1608.1" font-size="26.4" fill="#4D4D4D" text-anchor="middle">newts</text>
<text x="595.6" y="1608.1" font-size="26.4" fill="#4D4D4D" text-anchor="middle">toads</text>
<text x="376.5" y="1645.8" font-size="33" fill="#000" text-anchor="middle">Taxon</text>
<text x="136.4" y="1177.3" font-size="43.5" font-weight="bold" fill="#000">C</text>
</svg>
</body></html>
